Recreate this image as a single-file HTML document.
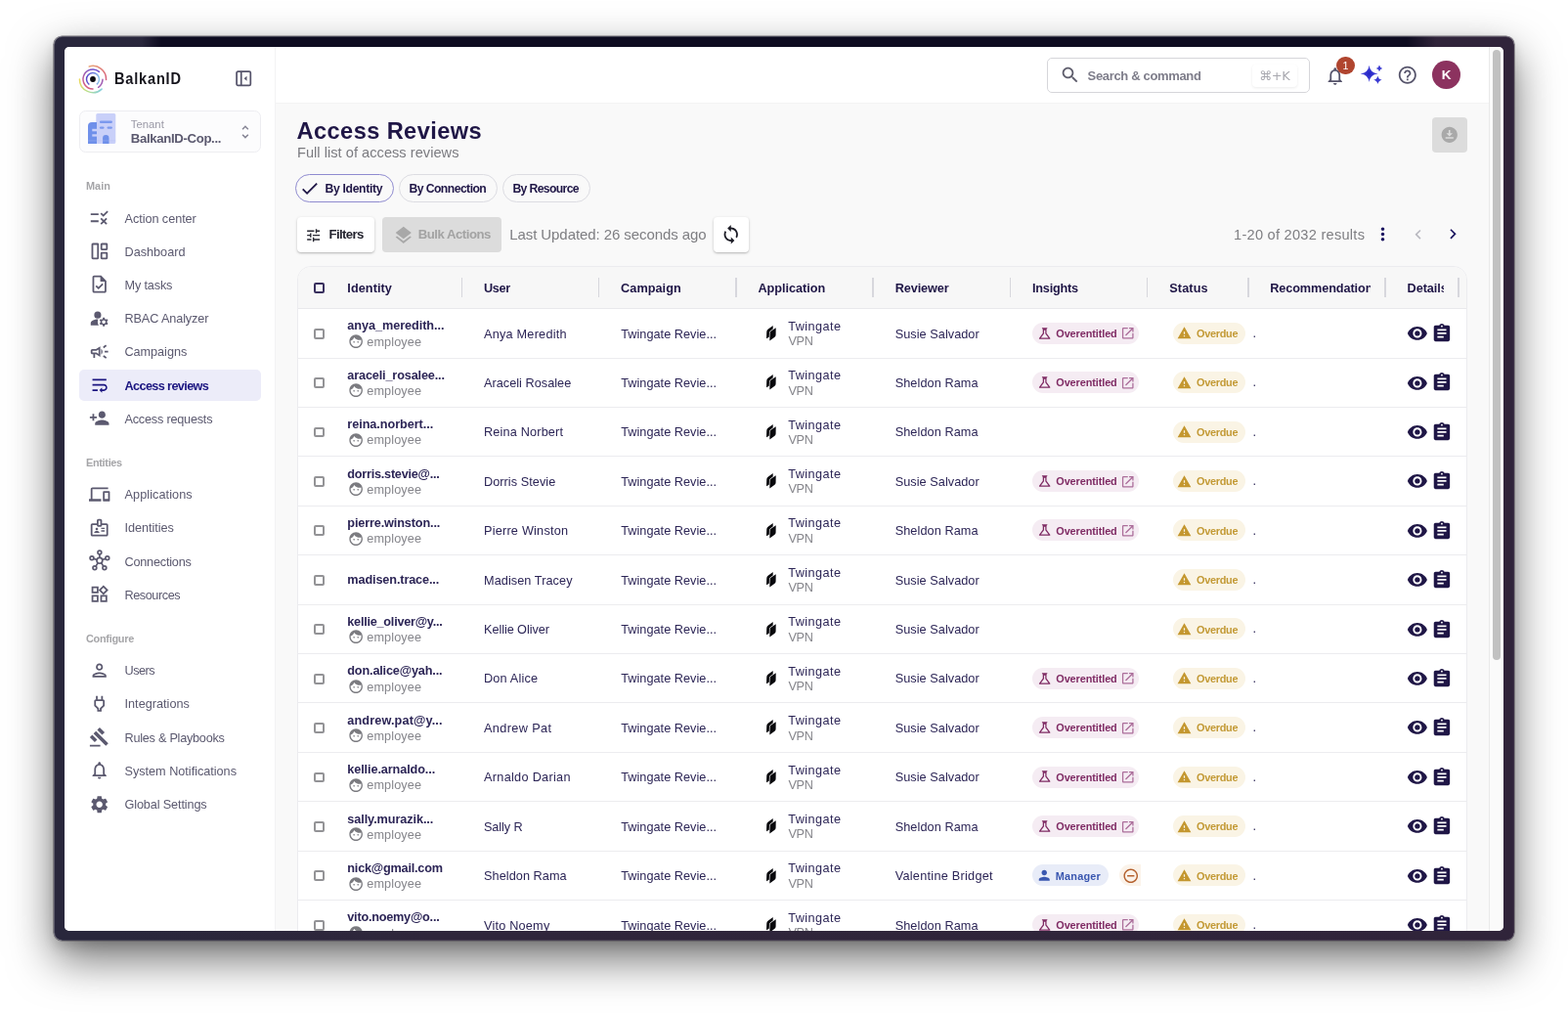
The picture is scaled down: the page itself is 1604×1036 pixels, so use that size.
<!DOCTYPE html>
<html lang="en"><head><meta charset="utf-8"><title>Access Reviews - BalkanID</title>
<style>
html,body{margin:0;padding:0;}
body{width:1604px;height:1036px;background:#fff;position:relative;overflow:hidden;font-family:"Liberation Sans",sans-serif;}
.frame{position:absolute;left:55.3px;top:37.2px;width:1493.4px;height:924.7px;border-radius:8.5px;
background:linear-gradient(90deg,#29273c 0%,#29273c 4%,#2f263b 26%,#30243a 100%);
box-shadow:0 0 0 .6px rgba(70,66,74,.75),0 19px 46px rgba(0,0,0,.56),0 6px 12px rgba(0,0,0,.13);}
.frame:before{content:"";position:absolute;left:0;top:0;right:0;height:11.5px;border-radius:8.5px 9.5px 0 0;
background:linear-gradient(90deg,rgba(14,12,32,0) 90px,#0e0c20 110px,#0e0c20 1384px,rgba(14,12,32,0) 1414px);}
.frame:after{content:"";position:absolute;left:0;top:0;right:0;bottom:0;border-radius:8.5px;box-shadow:inset 0 1px 0 rgba(255,255,255,.22),inset 0 -1px 0 rgba(255,255,255,.10),inset -1px 0 0 rgba(255,255,255,.06),inset 1px 0 0 rgba(255,255,255,.24);}
.screen{position:absolute;left:66px;top:48px;width:1472px;height:904px;border-radius:5px;overflow:hidden;background:#f9f9f9;}
.abs{position:absolute;left:-66px;top:-48px;width:1604px;height:1036px;}
.t{position:absolute;white-space:nowrap;line-height:1;display:block;}
.i{position:absolute;display:block;overflow:visible;}
.b{position:absolute;}
.sbt{position:absolute;left:1523px;top:48px;width:15px;height:904px;background:#fafafa;border-left:1px solid #e9e9e9;box-sizing:border-box;}
.sbh{position:absolute;left:1527.1px;top:51px;width:7.9px;height:623.5px;background:#c1c1c1;border-radius:4px;}
</style></head><body>
<div class="frame"></div>
<div class="screen"><div class="abs">
<aside class="sidebar">
<div class="b" style="left:66.00px;top:48.00px;width:215.00px;height:904.00px;background:#fff;border-right:1px solid #f3f3f4;"></div>
<svg class="i" style="left:78.50px;top:64.50px;width:32px;height:32px;" viewBox="0 0 32 32"><defs>
<linearGradient id="lg1" gradientUnits="userSpaceOnUse" x1="12" y1="2" x2="30" y2="16"><stop offset="0" stop-color="#eaa878"/><stop offset="1" stop-color="#d85f7c"/></linearGradient>
<linearGradient id="lg2" gradientUnits="userSpaceOnUse" x1="2" y1="16" x2="26" y2="28"><stop offset="0" stop-color="#ecd95a"/><stop offset=".5" stop-color="#b9df8e"/><stop offset="1" stop-color="#7fcde6"/></linearGradient>
<linearGradient id="lg3" gradientUnits="userSpaceOnUse" x1="22" y1="7" x2="12" y2="27"><stop offset="0" stop-color="#6a4fd0"/><stop offset=".55" stop-color="#b05fa6"/><stop offset="1" stop-color="#de5f7c"/></linearGradient>
<linearGradient id="lg4" gradientUnits="userSpaceOnUse" x1="9" y1="16" x2="23" y2="16"><stop offset="0" stop-color="#5a46c8"/><stop offset=".5" stop-color="#6a74dc"/><stop offset="1" stop-color="#8cc8ec"/></linearGradient>
</defs>
<g fill="none" stroke-linecap="round" stroke-width="1.5">
<path d="M12.25 2.93A13.6 13.6 0 0 1 29.59 16.47" stroke="url(#lg1)"/>
<path d="M25.10 26.11A13.6 13.6 0 0 1 2.40 16.00" stroke="url(#lg2)"/>
<path d="M16.00 26.00A10 10 0 1 1 22.43 8.34" stroke="url(#lg3)"/>
<path d="M25.99 16.35A10 10 0 0 1 21.59 24.29" stroke="#a35fb4"/>
<path d="M11.91 21.05A6.5 6.5 0 1 1 20.35 20.83" stroke="url(#lg4)"/>
</g>
<circle cx="16" cy="16" r="2.900" fill="#0c0c10"/>
</svg>
<span class="t " style="top:72.19px;font-size:16.2px;color:#16151d;font-weight:700;letter-spacing:0.890px;left:117.40px;transform:scaleX(0.9);transform-origin:0 0;">BalkanID</span>
<svg class="i" style="left:241.10px;top:71.80px;width:16.4px;height:16.4px;" viewBox="0 0 18 18"><rect x="1.2" y="1.2" width="15.6" height="15.6" rx="1.5" fill="none" stroke="#56546b" stroke-width="1.9"/><path d="M6.3 1.5v15" stroke="#56546b" stroke-width="1.9"/><path d="M12.6 6.2v5.6L9.5 9z" fill="#56546b"/></svg>
<div class="b" style="left:80.50px;top:113.00px;width:186.30px;height:42.50px;background:#fcfcfd;border:1px solid #ededf1;border-radius:6.5px;box-sizing:border-box;"></div>
<svg class="i" style="left:90.00px;top:116.00px;width:29px;height:31px;" viewBox="0 0 29 31">
<rect x="8.3" y="0" width="20" height="31" rx="1.6" fill="#c9d0f9"/>
<path d="M0 13a4 4 0 0 1 4-4h5v22H0z" fill="#6f90ea"/>
<rect x="11.9" y="7.600" width="13" height="2.400" rx="1.2" fill="#7c99ee"/>
<rect x="11.900" y="13.400" width="4.600" height="2.400" rx="1.2" fill="#7c99ee"/>
<rect x="19.600" y="13.400" width="5.300" height="2.400" rx="1.200" fill="#7c99ee"/>
<path d="M15.100 31v-5.800a3.200 3.200 0 0 1 6.400 0V31z" fill="#6f90ea"/>
<rect x="4.300" y="15.800" width="4.700" height="2.500" fill="#c9d0f9"/>
<rect x="4.300" y="21.300" width="4.700" height="2.300" fill="#c9d0f9"/>
<rect x="0" y="27.600" width="28.300" height=".6" fill="#aebaf3" opacity=".55"/>
</svg>
<span class="t " style="top:121.78px;font-size:11.3px;color:#9a99a6;letter-spacing:0.014px;left:133.80px;">Tenant</span>
<span class="t " style="top:135.35px;font-size:13.2px;color:#5b596f;font-weight:700;letter-spacing:-0.346px;left:133.80px;">BalkanID-Cop...</span>
<svg class="i" style="left:242.15px;top:125.95px;width:17.9px;height:17.9px;" viewBox="0 0 24 24"><path fill="#858494" d="M12 5.830L15.170 9l1.410-1.410L12 3 7.410 7.590 8.830 9 12 5.830zm0 12.340L8.830 15l-1.410 1.410L12 21l4.590-4.590L15.170 15 12 18.170z"/></svg>
<span class="t " style="top:185.08px;font-size:10.9px;color:#a5a5a8;font-weight:700;letter-spacing:0.024px;left:88.00px;">Main</span>
<span class="t " style="top:467.58px;font-size:10.9px;color:#a5a5a8;font-weight:700;letter-spacing:-0.310px;left:88.00px;">Entities</span>
<span class="t " style="top:647.58px;font-size:10.9px;color:#a5a5a8;font-weight:700;letter-spacing:-0.271px;left:88.00px;">Configure</span>
<svg class="i" style="left:91.10px;top:212.00px;width:21.4px;height:21.4px;" viewBox="0 0 24 24"><path fill="#5b596f" d="M16.54 11L13 7.46l1.41-1.41 2.12 2.12 4.24-4.24 1.41 1.41L16.54 11zM11 7H2v2h9V7zm10 6.41L19.59 12 17 14.59 14.41 12 13 13.41 15.59 16 13 18.59 14.41 20 17 17.41 19.59 20 21 18.59 18.41 16 21 13.41zM11 15H2v2h9v-2z"/></svg>
<span class="t " style="top:217.50px;font-size:12.7px;color:#5b596f;letter-spacing:-0.060px;left:127.50px;">Action center</span>
<svg class="i" style="left:91.90px;top:247.10px;width:19.8px;height:19.8px;" viewBox="0 0 24 24"><g fill="none" stroke="#5b596f" stroke-width="2.2" stroke-linejoin="round"><rect x="3" y="3" width="7" height="18" rx=".6"/><rect x="14.2" y="3" width="6.8" height="6.8" rx=".6"/><rect x="14.2" y="14.2" width="6.8" height="6.8" rx=".6"/></g></svg>
<span class="t " style="top:251.80px;font-size:12.7px;color:#5b596f;letter-spacing:-0.016px;left:127.50px;">Dashboard</span>
<svg class="i" style="left:91.10px;top:280.40px;width:21.4px;height:21.4px;" viewBox="0 0 24 24"><path fill="#5b596f" d="M14 2H6c-1.1 0-1.99.9-1.99 2L4 20c0 1.1.89 2 1.99 2H18c1.1 0 2-.9 2-2V8l-6-6zm4 18H6V4h7v5h5v11zm-9.18-6.95L7.4 14.46 10.94 18l5.66-5.66-1.41-1.41-4.24 4.24-2.13-2.12z"/></svg>
<span class="t " style="top:285.90px;font-size:12.7px;color:#5b596f;letter-spacing:-0.157px;left:127.50px;">My tasks</span>
<svg class="i" style="left:91.10px;top:314.60px;width:21.4px;height:21.4px;" viewBox="0 0 24 24"><path fill="#5b596f" d="M10 4a4 4 0 1 0 0 8a4 4 0 1 0 0-8zM10.67 13.02c-.22-.01-.44-.02-.67-.02-2.42 0-4.68.67-6.61 1.82-.88.52-1.39 1.5-1.39 2.53V20h9.26c-.79-1.13-1.26-2.51-1.26-4 0-1.07.25-2.07.67-2.98zM20.75 16c0-.22-.03-.42-.06-.63l1.14-1.01-1-1.73-1.45.49c-.32-.27-.68-.48-1.08-.63L18 11h-2l-.3 1.49c-.4.15-.76.36-1.08.63l-1.45-.49-1 1.73 1.14 1.01c-.03.21-.06.41-.06.63s.03.42.06.63l-1.14 1.01 1 1.73 1.45-.49c.32.27.68.48 1.08.63L16 21h2l.3-1.49c.4-.15.76-.36 1.08-.63l1.45.49 1-1.73-1.14-1.01c.03-.21.06-.41.06-.63zM17 18c-1.1 0-2-.9-2-2s.9-2 2-2 2 .9 2 2-.9 2-2 2z"/></svg>
<span class="t " style="top:320.10px;font-size:12.7px;color:#5b596f;letter-spacing:-0.127px;left:127.50px;">RBAC Analyzer</span>
<svg class="i" style="left:91.10px;top:348.80px;width:21.4px;height:21.4px;" viewBox="0 0 24 24"><path fill="#5b596f" d="M18 11v2h4v-2h-4zm-2 6.61c.96.71 2.21 1.65 3.2 2.39.4-.53.8-1.07 1.2-1.6-.99-.74-2.24-1.68-3.2-2.4-.4.54-.8 1.08-1.2 1.61zM20.4 5.6c-.4-.53-.8-1.07-1.2-1.6-.99.74-2.24 1.68-3.2 2.4.4.53.8 1.07 1.2 1.6.96-.72 2.21-1.65 3.2-2.4zM4 9c-1.1 0-2 .9-2 2v2c0 1.1.9 2 2 2h1v4h2v-4h1l5 3V6L8 9H4zm5.03 1.71L11 9.53v4.94l-1.97-1.18-.48-.29H4v-2h4.55l.48-.29zM15.5 12c0-1.33-.58-2.53-1.5-3.35v6.69c.92-.81 1.5-2.01 1.5-3.34z"/></svg>
<span class="t " style="top:354.30px;font-size:12.7px;color:#5b596f;letter-spacing:-0.055px;left:127.50px;">Campaigns</span>
<div class="b" style="left:81.00px;top:377.50px;width:186.00px;height:32.50px;background:#ececf9;border-radius:5px;"></div>
<svg class="i" style="left:91.10px;top:383.10px;width:21.4px;height:21.4px;" viewBox="0 0 24 24"><path fill="#1b1580" d="M4 19h6v-2H4v2zM20 5H4v2h16V5zm-3 6H4v2h13.25c1.1 0 2 .9 2 2s-.9 2-2 2H15v-2l-3 3 3 3v-2h2c2.21 0 4-1.79 4-4s-1.79-4-4-4z"/></svg>
<span class="t " style="top:388.60px;font-size:12.7px;color:#1b1580;font-weight:700;letter-spacing:-0.624px;left:127.50px;">Access reviews</span>
<svg class="i" style="left:91.10px;top:417.30px;width:21.4px;height:21.4px;" viewBox="0 0 24 24"><path fill="#5b596f" d="M15 12c2.21 0 4-1.79 4-4s-1.79-4-4-4-4 1.79-4 4 1.79 4 4 4zm-9-2V7H4v3H1v2h3v3h2v-3h3v-2H6zm9 4c-2.67 0-8 1.34-8 4v2h16v-2c0-2.66-5.33-4-8-4z"/></svg>
<span class="t " style="top:422.80px;font-size:12.7px;color:#5b596f;letter-spacing:-0.219px;left:127.50px;">Access requests</span>
<svg class="i" style="left:91.10px;top:494.60px;width:21.4px;height:21.4px;" viewBox="0 0 24 24"><path fill="#5b596f" d="M4 6h18V4H4c-1.1 0-2 .9-2 2v11H0v3h14v-3H4V6zm19 2h-6c-.55 0-1 .45-1 1v10c0 .55.45 1 1 1h6c.55 0 1-.45 1-1V9c0-.55-.45-1-1-1zm-1 9h-4v-7h4v7z"/></svg>
<span class="t " style="top:500.10px;font-size:12.7px;color:#5b596f;letter-spacing:0.065px;left:127.50px;">Applications</span>
<svg class="i" style="left:91.10px;top:528.80px;width:21.4px;height:21.4px;" viewBox="0 0 24 24"><path fill="#5b596f" d="M14 12h4v1.5h-4zm0 3h4v1.5h-4zM20 7h-5V4c0-1.1-.9-2-2-2h-2c-1.1 0-2 .9-2 2v3H4c-1.1 0-2 .9-2 2v11c0 1.1.9 2 2 2h16c1.1 0 2-.9 2-2V9c0-1.1-.9-2-2-2zm-9-3h2v5h-2V4zm9 16H4V9h5c0 1.1.9 2 2 2h2c1.1 0 2-.9 2-2h5v11zM9 15c.83 0 1.500-.67 1.500-1.500S9.830 12 9 12s-1.500.67-1.500 1.500S8.170 15 9 15zm2.080 1.180C10.440 15.900 9.740 15.750 9 15.750s-1.440.15-2.080.43c-.56.24-.92.78-.92 1.390V18h6v-.43c0-.61-.36-1.150-.92-1.390z"/></svg>
<span class="t " style="top:534.30px;font-size:12.7px;color:#5b596f;letter-spacing:-0.059px;left:127.50px;">Identities</span>
<svg class="i" style="left:90.90px;top:562.10px;width:21.8px;height:21.8px;" viewBox="0 0 24 24"><g fill="none" stroke="#5b596f" stroke-width="1.85"><circle cx="12" cy="12.500" r="3.2"/><circle cx="12" cy="3.300" r="2.1"/><circle cx="3.300" cy="9.600" r="2.1"/><circle cx="20.700" cy="9.600" r="2.1"/><circle cx="6.500" cy="20.600" r="2.1"/><circle cx="17.500" cy="20.600" r="2.1"/><path d="M12 5.400v4M5.300 10.300l3.800 1.300M18.700 10.300l-3.800 1.300M7.700 18.900l2.400-3.800M16.300 18.900l-2.400-3.800"/></g></svg>
<span class="t " style="top:568.50px;font-size:12.7px;color:#5b596f;letter-spacing:-0.220px;left:127.50px;">Connections</span>
<svg class="i" style="left:91.10px;top:597.30px;width:21.4px;height:21.4px;" viewBox="0 0 24 24"><path fill="#5b596f" d="M16.66 4.52l2.83 2.83-2.83 2.83-2.83-2.83 2.83-2.83M9 5v4H5V5h4m10 10v4h-4v-4h4M9 15v4H5v-4h4m7.66-13.31L11 7.34 16.66 13l5.66-5.66-5.660-5.650zM11 3H3v8h8V3zm10 10h-8v8h8v-8zm-10 0H3v8h8v-8z"/></svg>
<span class="t " style="top:602.80px;font-size:12.7px;color:#5b596f;letter-spacing:-0.438px;left:127.50px;">Resources</span>
<svg class="i" style="left:91.10px;top:674.60px;width:21.4px;height:21.4px;" viewBox="0 0 24 24"><path fill="#5b596f" d="M12 6c1.1 0 2 .9 2 2s-.9 2-2 2-2-.9-2-2 .9-2 2-2m0 10c2.7 0 5.8 1.29 6 2H6c.23-.72 3.31-2 6-2m0-12C9.79 4 8 5.79 8 8s1.79 4 4 4 4-1.79 4-4-1.79-4-4-4zm0 10c-2.67 0-8 1.34-8 4v2h16v-2c0-2.66-5.33-4-8-4z"/></svg>
<span class="t " style="top:680.10px;font-size:12.7px;color:#5b596f;letter-spacing:-0.491px;left:127.50px;">Users</span>
<svg class="i" style="left:91.10px;top:708.80px;width:21.4px;height:21.4px;" viewBox="0 0 24 24"><path fill="#5b596f" d="M16 9v4.66l-3.5 3.51V19h-1v-1.83L8 13.65V9h8m0-6h-2v4h-4V3H8v4h-.01C6.9 6.99 6 7.89 6 8.980v5.520L9.5 18v3h5v-3l3.5-3.510V9c0-1.100-.9-2-2-2V3z"/></svg>
<span class="t " style="top:714.30px;font-size:12.7px;color:#5b596f;letter-spacing:0.012px;left:127.50px;">Integrations</span>
<svg class="i" style="left:91.10px;top:743.00px;width:21.4px;height:21.4px;" viewBox="0 0 24 24"><path fill="#5b596f" d="M1 21h12v2H1v-2zM5.240 8.070l2.830-2.830 14.140 14.140-2.830 2.830L5.240 8.070zM12.320 1l5.660 5.660-2.830 2.830-5.660-5.660L12.320 1zM3.830 9.480l5.660 5.660-2.830 2.830L1 12.310l2.830-2.830z"/></svg>
<span class="t " style="top:748.50px;font-size:12.7px;color:#5b596f;letter-spacing:-0.256px;left:127.50px;">Rules &amp; Playbooks</span>
<svg class="i" style="left:91.10px;top:777.30px;width:21.4px;height:21.4px;" viewBox="0 0 24 24"><path fill="#5b596f" d="M12 22c1.1 0 2-.9 2-2h-4c0 1.1.9 2 2 2zm6-6v-5c0-3.070-1.630-5.640-4.500-6.320V4c0-.83-.67-1.500-1.500-1.500s-1.500.67-1.500 1.500v.68C7.640 5.360 6 7.920 6 11v5l-2 2v1h16v-1l-2-2zm-2 1H8v-6c0-2.480 1.510-4.500 4-4.500s4 2.020 4 4.500v6z"/></svg>
<span class="t " style="top:782.80px;font-size:12.7px;color:#5b596f;letter-spacing:-0.023px;left:127.50px;">System Notifications</span>
<svg class="i" style="left:91.10px;top:811.50px;width:21.4px;height:21.4px;" viewBox="0 0 24 24"><path fill="#5b596f" d="M19.14 12.94c.04-.3.06-.61.06-.94 0-.32-.02-.64-.07-.94l2.030-1.580c.18-.14.23-.41.12-.61l-1.920-3.320c-.12-.22-.37-.29-.59-.22l-2.390.96c-.5-.38-1.030-.7-1.620-.94l-.36-2.540c-.04-.24-.24-.41-.48-.41h-3.840c-.24 0-.43.17-.47.41l-.36 2.540c-.59.24-1.130.57-1.620.94l-2.390-.96c-.22-.08-.47 0-.59.22L2.740 8.870c-.12.21-.08.47.12.61l2.030 1.580c-.05.3-.09.63-.09.94s.02.64.07.94l-2.030 1.580c-.18.14-.23.41-.12.61l1.920 3.320c.12.22.37.29.59.22l2.390-.96c.5.38 1.030.7 1.620.94l.36 2.540c.05.24.24.41.48.41h3.840c.24 0 .44-.17.47-.41l.36-2.540c.59-.24 1.130-.56 1.620-.94l2.390.96c.22.08.47 0 .59-.22l1.920-3.320c.12-.22.07-.47-.12-.61l-2.010-1.580zM12 15.600c-1.980 0-3.600-1.620-3.600-3.600s1.620-3.600 3.600-3.600 3.600 1.620 3.600 3.600-1.620 3.600-3.600 3.600z"/></svg>
<span class="t " style="top:817.00px;font-size:12.7px;color:#5b596f;letter-spacing:-0.131px;left:127.50px;">Global Settings</span>
</aside>
<header class="topbar">
<div class="b" style="left:282.00px;top:48.00px;width:1241.00px;height:57.00px;background:#fff;border-bottom:1px solid #f3f3f4;"></div>
<div class="b" style="left:1071.00px;top:59.20px;width:269.00px;height:35.50px;background:#fff;border:1px solid #d6d6da;border-radius:5px;box-sizing:border-box;"></div>
<svg class="i" style="left:1084.05px;top:65.75px;width:21.5px;height:21.5px;" viewBox="0 0 24 24"><path fill="#5e5d6c" d="M15.5 14h-.79l-.28-.27C15.410 12.590 16 11.110 16 9.500 16 5.910 13.090 3 9.500 3S3 5.910 3 9.500 5.910 16 9.500 16c1.610 0 3.090-.59 4.230-1.570l.27.28v.79l5 4.990L20.490 19l-4.990-5zm-6 0C7.010 14 5 11.990 5 9.500S7.010 5 9.500 5 14 7.010 14 9.500 11.990 14 9.500 14z"/></svg>
<span class="t " style="top:71.05px;font-size:13px;color:#7e7d8a;font-weight:700;letter-spacing:-0.338px;left:1112.60px;">Search &amp; command</span>
<div class="b" style="left:1280.80px;top:66.00px;width:46.50px;height:23.00px;background:#fff;border-radius:4px;box-shadow:0 1px 3px rgba(0,0,0,.08);"></div>
<span class="t " style="top:70.65px;font-size:13px;color:#a9a9b0;letter-spacing:-0.300px;left:1288.00px;font-family:'DejaVu Sans','Liberation Sans',sans-serif;">⌘+K</span>
<svg class="i" style="left:1354.95px;top:66.95px;width:21.5px;height:21.5px;" viewBox="0 0 24 24"><path fill="#56546b" d="M12 22c1.1 0 2-.9 2-2h-4c0 1.1.9 2 2 2zm6-6v-5c0-3.070-1.630-5.640-4.500-6.320V4c0-.83-.67-1.500-1.500-1.500s-1.500.67-1.500 1.500v.68C7.640 5.360 6 7.920 6 11v5l-2 2v1h16v-1l-2-2zm-2 1H8v-6c0-2.480 1.510-4.500 4-4.500s4 2.020 4 4.500v6z"/></svg>
<div class="b" style="left:1367.40px;top:57.80px;width:18.40px;height:18.40px;background:#b0452f;border-radius:50%;"></div>
<span class="t " style="top:61.92px;font-size:10.8px;color:#fff;left:1376.50px;transform:translateX(-50%);">1</span>
<svg class="i" style="left:1388.00px;top:60.00px;width:30px;height:30px;" viewBox="0 0 30 30"><defs><radialGradient id="spg" gradientUnits="userSpaceOnUse" cx="12.6" cy="15.400" r="10"><stop offset="0" stop-color="#2424c4"/><stop offset="1" stop-color="#5151e2"/></radialGradient></defs><path fill="url(#spg)" d="M12.60 6.70Q13.50 14.53 21.60 15.40Q13.50 16.27 12.60 24.10Q11.70 16.27 3.60 15.40Q11.70 14.53 12.60 6.70Z"/><path fill="#3a3ad2" d="M23.00 6.60Q23.53 9.37 26.30 9.90Q23.53 10.43 23.00 13.20Q22.47 10.43 19.70 9.90Q22.47 9.37 23.00 6.60ZM21.40 17.50Q22.09 21.11 25.70 21.80Q22.09 22.49 21.40 26.10Q20.71 22.49 17.10 21.80Q20.71 21.11 21.40 17.50Z"/></svg>
<svg class="i" style="left:1429.40px;top:66.10px;width:21.6px;height:21.6px;" viewBox="0 0 24 24"><path fill="#56546b" d="M11 18h2v-2h-2v2zm1-16C6.480 2 2 6.480 2 12s4.480 10 10 10 10-4.480 10-10S17.520 2 12 2zm0 18c-4.410 0-8-3.590-8-8s3.590-8 8-8 8 3.590 8 8-3.590 8-8 8zm0-14c-2.210 0-4 1.790-4 4h2c0-1.100.9-2 2-2s2 .9 2 2c0 2-3 1.750-3 5h2c0-2.250 3-2.500 3-5 0-2.210-1.790-4-4-4z"/></svg>
<div class="b" style="left:1465.30px;top:62.10px;width:28.80px;height:28.80px;background:#8c325f;border-radius:50%;"></div>
<span class="t " style="top:70.01px;font-size:13.5px;color:#fff;font-weight:700;left:1479.70px;transform:translateX(-50%);">K</span>
</header>
<main class="content">
<section class="page-head">
<span class="t " style="top:123.27px;font-size:23.6px;color:#1f1646;font-weight:700;letter-spacing:0.409px;left:303.60px;">Access Reviews</span>
<span class="t " style="top:149.07px;font-size:14.6px;color:#7b7b80;letter-spacing:0.031px;left:304.00px;">Full list of access reviews</span>
<div class="b" style="left:1465.20px;top:120.00px;width:36.20px;height:35.50px;background:#dcdcdc;border-radius:4px;"></div>
<svg class="i" style="left:1473.45px;top:128.05px;width:19.5px;height:19.5px;" viewBox="0 0 24 24"><path fill="#a9a9a9" d="M12 2C6.490 2 2 6.490 2 12s4.490 10 10 10 10-4.490 10-10S17.510 2 12 2zm-1 8V6h2v4h3l-4 4-4-4h3zm6 7H7v-2h10v2z"/></svg>
<div class="b" style="left:302.00px;top:177.50px;width:101.00px;height:29.50px;border:1px solid #8f8bd0;border-radius:15px;box-sizing:border-box;"></div>
<svg class="i" style="left:305.75px;top:181.65px;width:21.5px;height:21.5px;" viewBox="0 0 24 24"><path fill="#1f1646" d="M9 16.170L4.830 12l-1.420 1.410L9 19 21 7l-1.410-1.410z"/></svg>
<span class="t " style="top:187.04px;font-size:12.2px;color:#1f1646;font-weight:700;letter-spacing:-0.346px;left:332.60px;">By Identity</span>
<div class="b" style="left:408.00px;top:177.50px;width:100.50px;height:29.50px;border:1px solid #dcdce2;border-radius:15px;box-sizing:border-box;"></div>
<span class="t " style="top:187.04px;font-size:12.2px;color:#1f1646;font-weight:700;letter-spacing:-0.548px;left:418.40px;">By Connection</span>
<div class="b" style="left:514.00px;top:177.50px;width:89.50px;height:29.50px;border:1px solid #dcdce2;border-radius:15px;box-sizing:border-box;"></div>
<span class="t " style="top:187.04px;font-size:12.2px;color:#1f1646;font-weight:700;letter-spacing:-0.629px;left:524.40px;">By Resource</span>
<div class="b" style="left:304.00px;top:222.00px;width:79.20px;height:35.50px;background:#fff;border-radius:4px;box-shadow:0 1px 3px rgba(0,0,0,.22),0 1px 1px rgba(0,0,0,.08);"></div>
<svg class="i" style="left:312.05px;top:231.55px;width:17.3px;height:17.3px;" viewBox="0 0 24 24"><path fill="#2a2a35" d="M3 17v2h6v-2H3zM3 5v2h10V5H3zm10 16v-2h8v-2h-8v-2h-2v6h2zM7 9v2H3v2h4v2h2V9H7zm14 4v-2H11v2h10zm-6-4h2V7h4V5h-4V3h-2v6z"/></svg>
<span class="t " style="top:232.95px;font-size:13.2px;color:#23232e;font-weight:700;letter-spacing:-0.635px;left:336.50px;">Filters</span>
<div class="b" style="left:390.70px;top:222.00px;width:122.50px;height:35.50px;background:#dcdcdc;border-radius:4px;"></div>
<svg class="i" style="left:401.55px;top:229.65px;width:21.5px;height:21.5px;" viewBox="0 0 24 24"><path fill="#a8a8a8" d="M11.990 18.540l-7.370-5.730L3 14.070l9 7 9-7-1.630-1.270-7.380 5.740zM12 16l7.360-5.730L21 9l-9-7-9 7 1.630 1.270L12 16z"/></svg>
<span class="t " style="top:232.95px;font-size:13.2px;color:#a3a3a3;font-weight:700;letter-spacing:-0.508px;left:427.80px;">Bulk Actions</span>
<span class="t " style="top:231.87px;font-size:15px;color:#7e7e82;letter-spacing:-0.073px;left:521.20px;">Last Updated: 26 seconds ago</span>
<div class="b" style="left:730.00px;top:222.00px;width:36.00px;height:35.50px;background:#fff;border-radius:4px;box-shadow:0 1px 3px rgba(0,0,0,.22),0 1px 1px rgba(0,0,0,.08);"></div>
<svg class="i" style="left:737.25px;top:228.95px;width:21.5px;height:21.5px;" viewBox="0 0 24 24"><path fill="#1b1b25" d="M12 4V1L8 5l4 4V6c3.310 0 6 2.690 6 6 0 1.010-.25 1.970-.7 2.800l1.460 1.460C19.540 15.030 20 13.570 20 12c0-4.420-3.580-8-8-8zm0 14c-3.310 0-6-2.690-6-6 0-1.010.25-1.970.7-2.800L5.240 7.740C4.460 8.970 4 10.430 4 12c0 4.420 3.580 8 8 8v3l4-4-4-4v3z"/></svg>
<span class="t " style="top:232.67px;font-size:14.6px;color:#7e7e82;letter-spacing:0.261px;left:1262.00px;">1-20 of 2032 results</span>
<svg class="i" style="left:1403.80px;top:229.20px;width:21px;height:21px;" viewBox="0 0 24 24"><path fill="#1c1660" d="M12 8c1.100 0 2-.9 2-2s-.9-2-2-2-2 .9-2 2 .9 2 2 2zm0 2c-1.100 0-2 .9-2 2s.9 2 2 2 2-.9 2-2-.9-2-2-2zm0 6c-1.100 0-2 .9-2 2s.9 2 2 2 2-.9 2-2-.9-2-2-2z"/></svg>
<svg class="i" style="left:1440.55px;top:229.95px;width:19.5px;height:19.5px;" viewBox="0 0 24 24"><path fill="#b9b9c0" d="M15.410 7.410L14 6l-6 6 6 6 1.410-1.410L10.830 12z"/></svg>
<svg class="i" style="left:1475.75px;top:229.45px;width:20.5px;height:20.5px;" viewBox="0 0 24 24"><path fill="#1c1660" d="M10 6L8.590 7.410 13.170 12l-4.580 4.590L10 18l6-6z"/></svg>
</section>
<section class="table">
<div class="thead">
<div class="b" style="left:304.00px;top:272.00px;width:1197.00px;height:700.00px;background:#fff;border:1px solid #ececef;border-radius:14px;box-sizing:border-box;"></div>
<div class="b" style="left:305.00px;top:273.00px;width:1195.00px;height:42.00px;background:#f7f7f7;border-bottom:1px solid #e9e9ec;border-radius:13px 13px 0 0;"></div>
<div class="b" style="left:321.20px;top:288.50px;width:11.20px;height:11.20px;border:2px solid #39305e;border-radius:2px;box-sizing:border-box;"></div>
<span class="t " style="top:289.10px;font-size:12.7px;color:#1f1646;font-weight:700;letter-spacing:0.063px;left:355.30px;">Identity</span>
<span class="t " style="top:289.10px;font-size:12.7px;color:#1f1646;font-weight:700;letter-spacing:-0.313px;left:494.90px;">User</span>
<span class="t " style="top:289.10px;font-size:12.7px;color:#1f1646;font-weight:700;letter-spacing:0.044px;left:635.10px;">Campaign</span>
<span class="t " style="top:289.10px;font-size:12.7px;color:#1f1646;font-weight:700;letter-spacing:-0.034px;left:775.40px;">Application</span>
<span class="t " style="top:289.10px;font-size:12.7px;color:#1f1646;font-weight:700;letter-spacing:-0.110px;left:915.70px;">Reviewer</span>
<span class="t " style="top:289.10px;font-size:12.7px;color:#1f1646;font-weight:700;letter-spacing:-0.227px;left:1056.00px;">Insights</span>
<span class="t " style="top:289.10px;font-size:12.7px;color:#1f1646;font-weight:700;letter-spacing:0.097px;left:1196.30px;">Status</span>
<span class="t " style="top:289.10px;font-size:12.7px;color:#1f1646;font-weight:700;letter-spacing:-0.095px;left:1299.20px;width:102.9px;overflow:hidden;">Recommendation</span>
<span class="t " style="top:289.10px;font-size:12.7px;color:#1f1646;font-weight:700;letter-spacing:-0.077px;left:1439.60px;width:37.3px;overflow:hidden;">Details</span>
<div class="b" style="left:471.55px;top:284.30px;width:1.50px;height:19.70px;background:#d7d7dd;"></div>
<div class="b" style="left:611.75px;top:284.30px;width:1.50px;height:19.70px;background:#d7d7dd;"></div>
<div class="b" style="left:752.05px;top:284.30px;width:1.50px;height:19.70px;background:#d7d7dd;"></div>
<div class="b" style="left:892.25px;top:284.30px;width:1.50px;height:19.70px;background:#d7d7dd;"></div>
<div class="b" style="left:1032.55px;top:284.30px;width:1.50px;height:19.70px;background:#d7d7dd;"></div>
<div class="b" style="left:1172.75px;top:284.30px;width:1.50px;height:19.70px;background:#d7d7dd;"></div>
<div class="b" style="left:1276.15px;top:284.30px;width:1.50px;height:19.70px;background:#d7d7dd;"></div>
<div class="b" style="left:1416.25px;top:284.30px;width:1.50px;height:19.70px;background:#d7d7dd;"></div>
<div class="b" style="left:1491.45px;top:284.30px;width:1.50px;height:19.70px;background:#d7d7dd;"></div>
</div>
<div class="tr">
<div class="b" style="left:321.15px;top:335.75px;width:10.90px;height:10.90px;border:2px solid #939396;border-radius:2px;box-sizing:border-box;background:#fff;"></div>
<span class="t " style="top:327.30px;font-size:12.7px;color:#2c2556;font-weight:700;letter-spacing:-0.062px;left:355.30px;">anya_meredith...</span>
<svg class="i" style="left:355.55px;top:340.95px;width:16.3px;height:16.3px;" viewBox="0 0 24 24"><path fill="#7b7b80" d="M9 11.750c-.69 0-1.250.56-1.250 1.250s.56 1.250 1.250 1.250 1.250-.56 1.250-1.250-.56-1.250-1.250-1.250zm6 0c-.69 0-1.250.56-1.250 1.250s.56 1.250 1.250 1.250 1.250-.56 1.250-1.250-.56-1.250-1.250-1.250zM12 2C6.480 2 2 6.480 2 12s4.480 10 10 10 10-4.480 10-10S17.520 2 12 2zm0 18c-4.410 0-8-3.590-8-8 0-.29.02-.58.05-.86 2.360-1.050 4.230-2.980 5.210-5.370C11.070 8.330 14.050 10 17.420 10c.78 0 1.530-.09 2.250-.26.21.71.33 1.470.33 2.260 0 4.410-3.590 8-8 8z"/></svg>
<span class="t " style="top:343.60px;font-size:12.7px;color:#85858b;letter-spacing:0.090px;left:375.30px;">employee</span>
<span class="t " style="top:335.50px;font-size:12.7px;color:#2c2556;letter-spacing:0.226px;left:495.00px;">Anya Meredith</span>
<span class="t " style="top:335.50px;font-size:12.7px;color:#2c2556;letter-spacing:0.037px;left:635.20px;">Twingate Revie...</span>
<svg class="i" style="left:776.00px;top:328.00px;width:30px;height:26px;" viewBox="0 0 30 26"><path d="M14.7 5 9.3 9Q8.4 9.800 8.300 11L8 18.300 13 15.500 14.700 8.500z" fill="#08080c"/><path d="M17.700 7.300 12.500 10.800Q11.700 11.400 11.600 12.500L11.300 20.600 16.500 16.700Q17.600 15.800 17.600 14.500z" fill="#08080c" stroke="#fff" stroke-width="1.3" paint-order="stroke"/></svg>
<span class="t " style="top:327.80px;font-size:12.7px;color:#2c2556;letter-spacing:0.410px;left:806.30px;">Twingate</span>
<span class="t " style="top:343.20px;font-size:12.7px;color:#85858b;letter-spacing:-0.257px;left:806.40px;">VPN</span>
<span class="t " style="top:335.50px;font-size:12.7px;color:#2c2556;letter-spacing:0.052px;left:915.70px;">Susie Salvador</span>
<div class="b" style="left:1056.00px;top:329.80px;width:109.00px;height:22.00px;background:#f5ecf3;border-radius:11.5px;"></div>
<svg class="i" style="left:1060.65px;top:333.65px;width:15.3px;height:15.3px;" viewBox="0 0 24 24"><path fill="#7f2b64" d="M13 11.330L18 18H6l5-6.670V6h2m2.960-4H8.040c-.42 0-.65.48-.39.81L9 4.500v6.170L3.200 18.400c-.49.66-.02 1.600.8 1.600h16c.82 0 1.290-.94.8-1.600L15 10.670V4.500l1.350-1.690c.26-.33.03-.81-.39-.81z"/></svg>
<span class="t " style="top:335.98px;font-size:10.9px;color:#7f2b64;font-weight:700;letter-spacing:-0.100px;left:1080.30px;">Overentitled</span>
<svg class="i" style="left:1145.85px;top:333.45px;width:15.5px;height:15.5px;" viewBox="0 0 24 24"><path fill="#ab6d9a" d="M19 19H5V5h7V3H5c-1.110 0-2 .9-2 2v14c0 1.100.89 2 2 2h14c1.100 0 2-.9 2-2v-7h-2v7zM14 3v2h3.590l-9.830 9.830 1.410 1.410L19 6.410V10h2V3h-7z"/></svg>
<div class="b" style="left:1200.00px;top:329.80px;width:74.20px;height:22.00px;background:#faf4e5;border-radius:11.5px;"></div>
<svg class="i" style="left:1204.40px;top:333.30px;width:15px;height:15px;" viewBox="0 0 24 24"><path fill="#c4972f" d="M1 21h22L12 2 1 21zm12-3h-2v-2h2v2zm0-4h-2v-4h2v4z"/></svg>
<span class="t " style="top:335.98px;font-size:10.9px;color:#c39a36;font-weight:700;letter-spacing:-0.287px;left:1224.00px;">Overdue</span>
<span class="t " style="top:334.90px;font-size:12.7px;color:#2c2556;left:1281.50px;">.</span>
<svg class="i" style="left:1439.30px;top:330.10px;width:21.8px;height:21.8px;" viewBox="0 0 24 24"><path fill="#1f1646" d="M12 4.500C7 4.500 2.730 7.610 1 12c1.730 4.390 6 7.500 11 7.500s9.270-3.110 11-7.500c-1.730-4.390-6-7.500-11-7.500zM12 17c-2.760 0-5-2.240-5-5s2.240-5 5-5 5 2.240 5 5-2.240 5-5 5zm0-8c-1.660 0-3 1.340-3 3s1.340 3 3 3 3-1.340 3-3-1.340-3-3-3z"/></svg>
<svg class="i" style="left:1464.35px;top:330.05px;width:21.9px;height:21.9px;" viewBox="0 0 24 24"><path fill="#1f1646" d="M19 3h-4.180C14.400 1.840 13.300 1 12 1c-1.300 0-2.400.84-2.820 2H5c-1.100 0-2 .9-2 2v14c0 1.100.9 2 2 2h14c1.100 0 2-.9 2-2V5c0-1.100-.9-2-2-2zm-7 0c.55 0 1 .45 1 1s-.45 1-1 1-1-.45-1-1 .45-1 1-1zm2 14H7v-2h7v2zm3-4H7v-2h10v2zm0-4H7V7h10v2z"/></svg>
</div>
<div class="tr">
<div class="b" style="left:305.00px;top:365.52px;width:1195.00px;height:1.00px;background:#ececef;"></div>
<div class="b" style="left:321.15px;top:386.17px;width:10.90px;height:10.90px;border:2px solid #939396;border-radius:2px;box-sizing:border-box;background:#fff;"></div>
<span class="t " style="top:377.72px;font-size:12.7px;color:#2c2556;font-weight:700;letter-spacing:-0.152px;left:355.30px;">araceli_rosalee...</span>
<svg class="i" style="left:355.55px;top:391.37px;width:16.3px;height:16.3px;" viewBox="0 0 24 24"><path fill="#7b7b80" d="M9 11.750c-.69 0-1.250.56-1.250 1.250s.56 1.250 1.250 1.250 1.250-.56 1.250-1.250-.56-1.250-1.250-1.250zm6 0c-.69 0-1.250.56-1.250 1.250s.56 1.250 1.250 1.250 1.250-.56 1.250-1.250-.56-1.250-1.250-1.250zM12 2C6.480 2 2 6.480 2 12s4.480 10 10 10 10-4.480 10-10S17.520 2 12 2zm0 18c-4.410 0-8-3.590-8-8 0-.29.02-.58.05-.86 2.360-1.050 4.230-2.980 5.210-5.370C11.070 8.330 14.050 10 17.420 10c.78 0 1.530-.09 2.250-.26.21.71.33 1.470.33 2.260 0 4.410-3.590 8-8 8z"/></svg>
<span class="t " style="top:394.02px;font-size:12.7px;color:#85858b;letter-spacing:0.090px;left:375.30px;">employee</span>
<span class="t " style="top:385.92px;font-size:12.7px;color:#2c2556;letter-spacing:0.025px;left:495.00px;">Araceli Rosalee</span>
<span class="t " style="top:385.92px;font-size:12.7px;color:#2c2556;letter-spacing:0.037px;left:635.20px;">Twingate Revie...</span>
<svg class="i" style="left:776.00px;top:378.42px;width:30px;height:26px;" viewBox="0 0 30 26"><path d="M14.7 5 9.3 9Q8.4 9.800 8.300 11L8 18.300 13 15.500 14.700 8.500z" fill="#08080c"/><path d="M17.700 7.300 12.500 10.800Q11.700 11.400 11.600 12.500L11.300 20.600 16.500 16.700Q17.600 15.800 17.600 14.500z" fill="#08080c" stroke="#fff" stroke-width="1.3" paint-order="stroke"/></svg>
<span class="t " style="top:378.22px;font-size:12.7px;color:#2c2556;letter-spacing:0.410px;left:806.30px;">Twingate</span>
<span class="t " style="top:393.62px;font-size:12.7px;color:#85858b;letter-spacing:-0.257px;left:806.40px;">VPN</span>
<span class="t " style="top:385.92px;font-size:12.7px;color:#2c2556;letter-spacing:0.081px;left:915.70px;">Sheldon Rama</span>
<div class="b" style="left:1056.00px;top:380.22px;width:109.00px;height:22.00px;background:#f5ecf3;border-radius:11.5px;"></div>
<svg class="i" style="left:1060.65px;top:384.07px;width:15.3px;height:15.3px;" viewBox="0 0 24 24"><path fill="#7f2b64" d="M13 11.330L18 18H6l5-6.670V6h2m2.960-4H8.040c-.42 0-.65.48-.39.81L9 4.500v6.170L3.200 18.400c-.49.66-.02 1.600.8 1.600h16c.82 0 1.290-.94.8-1.600L15 10.670V4.500l1.350-1.690c.26-.33.03-.81-.39-.81z"/></svg>
<span class="t " style="top:386.40px;font-size:10.9px;color:#7f2b64;font-weight:700;letter-spacing:-0.100px;left:1080.30px;">Overentitled</span>
<svg class="i" style="left:1145.85px;top:383.87px;width:15.5px;height:15.5px;" viewBox="0 0 24 24"><path fill="#ab6d9a" d="M19 19H5V5h7V3H5c-1.110 0-2 .9-2 2v14c0 1.100.89 2 2 2h14c1.100 0 2-.9 2-2v-7h-2v7zM14 3v2h3.590l-9.830 9.830 1.410 1.410L19 6.410V10h2V3h-7z"/></svg>
<div class="b" style="left:1200.00px;top:380.22px;width:74.20px;height:22.00px;background:#faf4e5;border-radius:11.5px;"></div>
<svg class="i" style="left:1204.40px;top:383.72px;width:15px;height:15px;" viewBox="0 0 24 24"><path fill="#c4972f" d="M1 21h22L12 2 1 21zm12-3h-2v-2h2v2zm0-4h-2v-4h2v4z"/></svg>
<span class="t " style="top:386.40px;font-size:10.9px;color:#c39a36;font-weight:700;letter-spacing:-0.287px;left:1224.00px;">Overdue</span>
<span class="t " style="top:385.32px;font-size:12.7px;color:#2c2556;left:1281.50px;">.</span>
<svg class="i" style="left:1439.30px;top:380.52px;width:21.8px;height:21.8px;" viewBox="0 0 24 24"><path fill="#1f1646" d="M12 4.500C7 4.500 2.730 7.610 1 12c1.730 4.390 6 7.500 11 7.500s9.270-3.110 11-7.500c-1.730-4.390-6-7.500-11-7.500zM12 17c-2.760 0-5-2.240-5-5s2.240-5 5-5 5 2.240 5 5-2.240 5-5 5zm0-8c-1.660 0-3 1.340-3 3s1.340 3 3 3 3-1.340 3-3-1.340-3-3-3z"/></svg>
<svg class="i" style="left:1464.35px;top:380.47px;width:21.9px;height:21.9px;" viewBox="0 0 24 24"><path fill="#1f1646" d="M19 3h-4.180C14.400 1.840 13.300 1 12 1c-1.300 0-2.400.84-2.820 2H5c-1.100 0-2 .9-2 2v14c0 1.100.9 2 2 2h14c1.100 0 2-.9 2-2V5c0-1.100-.9-2-2-2zm-7 0c.55 0 1 .45 1 1s-.45 1-1 1-1-.45-1-1 .45-1 1-1zm2 14H7v-2h7v2zm3-4H7v-2h10v2zm0-4H7V7h10v2z"/></svg>
</div>
<div class="tr">
<div class="b" style="left:305.00px;top:415.94px;width:1195.00px;height:1.00px;background:#ececef;"></div>
<div class="b" style="left:321.15px;top:436.59px;width:10.90px;height:10.90px;border:2px solid #939396;border-radius:2px;box-sizing:border-box;background:#fff;"></div>
<span class="t " style="top:428.14px;font-size:12.7px;color:#2c2556;font-weight:700;letter-spacing:-0.061px;left:355.30px;">reina.norbert...</span>
<svg class="i" style="left:355.55px;top:441.79px;width:16.3px;height:16.3px;" viewBox="0 0 24 24"><path fill="#7b7b80" d="M9 11.750c-.69 0-1.250.56-1.250 1.250s.56 1.250 1.250 1.250 1.250-.56 1.250-1.250-.56-1.250-1.250-1.250zm6 0c-.69 0-1.250.56-1.250 1.250s.56 1.250 1.250 1.250 1.250-.56 1.250-1.250-.56-1.250-1.250-1.250zM12 2C6.480 2 2 6.480 2 12s4.480 10 10 10 10-4.480 10-10S17.520 2 12 2zm0 18c-4.410 0-8-3.590-8-8 0-.29.02-.58.05-.86 2.360-1.050 4.230-2.980 5.210-5.370C11.070 8.330 14.050 10 17.420 10c.78 0 1.530-.09 2.250-.26.21.71.33 1.470.33 2.260 0 4.410-3.590 8-8 8z"/></svg>
<span class="t " style="top:444.44px;font-size:12.7px;color:#85858b;letter-spacing:0.090px;left:375.30px;">employee</span>
<span class="t " style="top:436.34px;font-size:12.7px;color:#2c2556;letter-spacing:0.170px;left:495.00px;">Reina Norbert</span>
<span class="t " style="top:436.34px;font-size:12.7px;color:#2c2556;letter-spacing:0.037px;left:635.20px;">Twingate Revie...</span>
<svg class="i" style="left:776.00px;top:428.84px;width:30px;height:26px;" viewBox="0 0 30 26"><path d="M14.7 5 9.3 9Q8.4 9.800 8.300 11L8 18.300 13 15.500 14.700 8.500z" fill="#08080c"/><path d="M17.700 7.300 12.500 10.800Q11.700 11.400 11.600 12.500L11.300 20.600 16.500 16.700Q17.600 15.800 17.600 14.500z" fill="#08080c" stroke="#fff" stroke-width="1.3" paint-order="stroke"/></svg>
<span class="t " style="top:428.64px;font-size:12.7px;color:#2c2556;letter-spacing:0.410px;left:806.30px;">Twingate</span>
<span class="t " style="top:444.04px;font-size:12.7px;color:#85858b;letter-spacing:-0.257px;left:806.40px;">VPN</span>
<span class="t " style="top:436.34px;font-size:12.7px;color:#2c2556;letter-spacing:0.081px;left:915.70px;">Sheldon Rama</span>
<div class="b" style="left:1200.00px;top:430.64px;width:74.20px;height:22.00px;background:#faf4e5;border-radius:11.5px;"></div>
<svg class="i" style="left:1204.40px;top:434.14px;width:15px;height:15px;" viewBox="0 0 24 24"><path fill="#c4972f" d="M1 21h22L12 2 1 21zm12-3h-2v-2h2v2zm0-4h-2v-4h2v4z"/></svg>
<span class="t " style="top:436.82px;font-size:10.9px;color:#c39a36;font-weight:700;letter-spacing:-0.287px;left:1224.00px;">Overdue</span>
<span class="t " style="top:435.74px;font-size:12.7px;color:#2c2556;left:1281.50px;">.</span>
<svg class="i" style="left:1439.30px;top:430.94px;width:21.8px;height:21.8px;" viewBox="0 0 24 24"><path fill="#1f1646" d="M12 4.500C7 4.500 2.730 7.610 1 12c1.730 4.390 6 7.500 11 7.500s9.270-3.110 11-7.500c-1.730-4.390-6-7.500-11-7.500zM12 17c-2.760 0-5-2.240-5-5s2.240-5 5-5 5 2.240 5 5-2.240 5-5 5zm0-8c-1.660 0-3 1.340-3 3s1.340 3 3 3 3-1.340 3-3-1.340-3-3-3z"/></svg>
<svg class="i" style="left:1464.35px;top:430.89px;width:21.9px;height:21.9px;" viewBox="0 0 24 24"><path fill="#1f1646" d="M19 3h-4.180C14.400 1.840 13.300 1 12 1c-1.300 0-2.400.84-2.820 2H5c-1.100 0-2 .9-2 2v14c0 1.100.9 2 2 2h14c1.100 0 2-.9 2-2V5c0-1.100-.9-2-2-2zm-7 0c.55 0 1 .45 1 1s-.45 1-1 1-1-.45-1-1 .45-1 1-1zm2 14H7v-2h7v2zm3-4H7v-2h10v2zm0-4H7V7h10v2z"/></svg>
</div>
<div class="tr">
<div class="b" style="left:305.00px;top:466.36px;width:1195.00px;height:1.00px;background:#ececef;"></div>
<div class="b" style="left:321.15px;top:487.01px;width:10.90px;height:10.90px;border:2px solid #939396;border-radius:2px;box-sizing:border-box;background:#fff;"></div>
<span class="t " style="top:478.56px;font-size:12.7px;color:#2c2556;font-weight:700;letter-spacing:-0.244px;left:355.30px;">dorris.stevie@...</span>
<svg class="i" style="left:355.55px;top:492.21px;width:16.3px;height:16.3px;" viewBox="0 0 24 24"><path fill="#7b7b80" d="M9 11.750c-.69 0-1.250.56-1.250 1.250s.56 1.250 1.250 1.250 1.250-.56 1.250-1.250-.56-1.250-1.250-1.250zm6 0c-.69 0-1.250.56-1.250 1.250s.56 1.250 1.250 1.250 1.250-.56 1.250-1.250-.56-1.250-1.250-1.250zM12 2C6.480 2 2 6.480 2 12s4.480 10 10 10 10-4.480 10-10S17.520 2 12 2zm0 18c-4.410 0-8-3.590-8-8 0-.29.02-.58.05-.86 2.360-1.050 4.230-2.980 5.210-5.370C11.070 8.330 14.050 10 17.420 10c.78 0 1.530-.09 2.250-.26.21.71.33 1.470.33 2.260 0 4.410-3.590 8-8 8z"/></svg>
<span class="t " style="top:494.86px;font-size:12.7px;color:#85858b;letter-spacing:0.090px;left:375.30px;">employee</span>
<span class="t " style="top:486.76px;font-size:12.7px;color:#2c2556;letter-spacing:0.051px;left:495.00px;">Dorris Stevie</span>
<span class="t " style="top:486.76px;font-size:12.7px;color:#2c2556;letter-spacing:0.037px;left:635.20px;">Twingate Revie...</span>
<svg class="i" style="left:776.00px;top:479.26px;width:30px;height:26px;" viewBox="0 0 30 26"><path d="M14.7 5 9.3 9Q8.4 9.800 8.300 11L8 18.300 13 15.500 14.700 8.500z" fill="#08080c"/><path d="M17.700 7.300 12.500 10.800Q11.700 11.400 11.600 12.500L11.300 20.600 16.500 16.700Q17.600 15.800 17.600 14.500z" fill="#08080c" stroke="#fff" stroke-width="1.3" paint-order="stroke"/></svg>
<span class="t " style="top:479.06px;font-size:12.7px;color:#2c2556;letter-spacing:0.410px;left:806.30px;">Twingate</span>
<span class="t " style="top:494.46px;font-size:12.7px;color:#85858b;letter-spacing:-0.257px;left:806.40px;">VPN</span>
<span class="t " style="top:486.76px;font-size:12.7px;color:#2c2556;letter-spacing:0.052px;left:915.70px;">Susie Salvador</span>
<div class="b" style="left:1056.00px;top:481.06px;width:109.00px;height:22.00px;background:#f5ecf3;border-radius:11.5px;"></div>
<svg class="i" style="left:1060.65px;top:484.91px;width:15.3px;height:15.3px;" viewBox="0 0 24 24"><path fill="#7f2b64" d="M13 11.330L18 18H6l5-6.670V6h2m2.960-4H8.040c-.42 0-.65.48-.39.81L9 4.500v6.170L3.200 18.400c-.49.66-.02 1.600.8 1.600h16c.82 0 1.290-.94.8-1.600L15 10.670V4.500l1.350-1.690c.26-.33.03-.81-.39-.81z"/></svg>
<span class="t " style="top:487.24px;font-size:10.9px;color:#7f2b64;font-weight:700;letter-spacing:-0.100px;left:1080.30px;">Overentitled</span>
<svg class="i" style="left:1145.85px;top:484.71px;width:15.5px;height:15.5px;" viewBox="0 0 24 24"><path fill="#ab6d9a" d="M19 19H5V5h7V3H5c-1.110 0-2 .9-2 2v14c0 1.100.89 2 2 2h14c1.100 0 2-.9 2-2v-7h-2v7zM14 3v2h3.590l-9.830 9.830 1.410 1.410L19 6.410V10h2V3h-7z"/></svg>
<div class="b" style="left:1200.00px;top:481.06px;width:74.20px;height:22.00px;background:#faf4e5;border-radius:11.5px;"></div>
<svg class="i" style="left:1204.40px;top:484.56px;width:15px;height:15px;" viewBox="0 0 24 24"><path fill="#c4972f" d="M1 21h22L12 2 1 21zm12-3h-2v-2h2v2zm0-4h-2v-4h2v4z"/></svg>
<span class="t " style="top:487.24px;font-size:10.9px;color:#c39a36;font-weight:700;letter-spacing:-0.287px;left:1224.00px;">Overdue</span>
<span class="t " style="top:486.16px;font-size:12.7px;color:#2c2556;left:1281.50px;">.</span>
<svg class="i" style="left:1439.30px;top:481.36px;width:21.8px;height:21.8px;" viewBox="0 0 24 24"><path fill="#1f1646" d="M12 4.500C7 4.500 2.730 7.610 1 12c1.730 4.390 6 7.500 11 7.500s9.270-3.110 11-7.500c-1.730-4.390-6-7.500-11-7.500zM12 17c-2.760 0-5-2.240-5-5s2.240-5 5-5 5 2.240 5 5-2.240 5-5 5zm0-8c-1.660 0-3 1.340-3 3s1.340 3 3 3 3-1.340 3-3-1.340-3-3-3z"/></svg>
<svg class="i" style="left:1464.35px;top:481.31px;width:21.9px;height:21.9px;" viewBox="0 0 24 24"><path fill="#1f1646" d="M19 3h-4.180C14.400 1.840 13.300 1 12 1c-1.300 0-2.400.84-2.820 2H5c-1.100 0-2 .9-2 2v14c0 1.100.9 2 2 2h14c1.100 0 2-.9 2-2V5c0-1.100-.9-2-2-2zm-7 0c.55 0 1 .45 1 1s-.45 1-1 1-1-.45-1-1 .45-1 1-1zm2 14H7v-2h7v2zm3-4H7v-2h10v2zm0-4H7V7h10v2z"/></svg>
</div>
<div class="tr">
<div class="b" style="left:305.00px;top:516.78px;width:1195.00px;height:1.00px;background:#ececef;"></div>
<div class="b" style="left:321.15px;top:537.43px;width:10.90px;height:10.90px;border:2px solid #939396;border-radius:2px;box-sizing:border-box;background:#fff;"></div>
<span class="t " style="top:528.98px;font-size:12.7px;color:#2c2556;font-weight:700;letter-spacing:-0.143px;left:355.30px;">pierre.winston...</span>
<svg class="i" style="left:355.55px;top:542.63px;width:16.3px;height:16.3px;" viewBox="0 0 24 24"><path fill="#7b7b80" d="M9 11.750c-.69 0-1.250.56-1.250 1.250s.56 1.250 1.250 1.250 1.250-.56 1.250-1.250-.56-1.250-1.250-1.250zm6 0c-.69 0-1.250.56-1.250 1.250s.56 1.250 1.250 1.250 1.250-.56 1.250-1.250-.56-1.250-1.250-1.250zM12 2C6.480 2 2 6.480 2 12s4.480 10 10 10 10-4.480 10-10S17.520 2 12 2zm0 18c-4.410 0-8-3.590-8-8 0-.29.02-.58.05-.86 2.360-1.050 4.230-2.980 5.210-5.370C11.070 8.330 14.050 10 17.420 10c.78 0 1.530-.09 2.250-.26.21.71.33 1.470.33 2.260 0 4.410-3.590 8-8 8z"/></svg>
<span class="t " style="top:545.28px;font-size:12.7px;color:#85858b;letter-spacing:0.090px;left:375.30px;">employee</span>
<span class="t " style="top:537.18px;font-size:12.7px;color:#2c2556;letter-spacing:0.217px;left:495.00px;">Pierre Winston</span>
<span class="t " style="top:537.18px;font-size:12.7px;color:#2c2556;letter-spacing:0.037px;left:635.20px;">Twingate Revie...</span>
<svg class="i" style="left:776.00px;top:529.68px;width:30px;height:26px;" viewBox="0 0 30 26"><path d="M14.7 5 9.3 9Q8.4 9.800 8.300 11L8 18.300 13 15.500 14.700 8.500z" fill="#08080c"/><path d="M17.700 7.300 12.500 10.800Q11.700 11.400 11.600 12.500L11.300 20.600 16.500 16.700Q17.600 15.800 17.600 14.500z" fill="#08080c" stroke="#fff" stroke-width="1.3" paint-order="stroke"/></svg>
<span class="t " style="top:529.48px;font-size:12.7px;color:#2c2556;letter-spacing:0.410px;left:806.30px;">Twingate</span>
<span class="t " style="top:544.88px;font-size:12.7px;color:#85858b;letter-spacing:-0.257px;left:806.40px;">VPN</span>
<span class="t " style="top:537.18px;font-size:12.7px;color:#2c2556;letter-spacing:0.081px;left:915.70px;">Sheldon Rama</span>
<div class="b" style="left:1056.00px;top:531.48px;width:109.00px;height:22.00px;background:#f5ecf3;border-radius:11.5px;"></div>
<svg class="i" style="left:1060.65px;top:535.33px;width:15.3px;height:15.3px;" viewBox="0 0 24 24"><path fill="#7f2b64" d="M13 11.330L18 18H6l5-6.670V6h2m2.960-4H8.040c-.42 0-.65.48-.39.81L9 4.500v6.170L3.200 18.400c-.49.66-.02 1.600.8 1.600h16c.82 0 1.290-.94.8-1.600L15 10.670V4.500l1.350-1.690c.26-.33.03-.81-.39-.81z"/></svg>
<span class="t " style="top:537.66px;font-size:10.9px;color:#7f2b64;font-weight:700;letter-spacing:-0.100px;left:1080.30px;">Overentitled</span>
<svg class="i" style="left:1145.85px;top:535.13px;width:15.5px;height:15.5px;" viewBox="0 0 24 24"><path fill="#ab6d9a" d="M19 19H5V5h7V3H5c-1.110 0-2 .9-2 2v14c0 1.100.89 2 2 2h14c1.100 0 2-.9 2-2v-7h-2v7zM14 3v2h3.590l-9.830 9.830 1.410 1.410L19 6.410V10h2V3h-7z"/></svg>
<div class="b" style="left:1200.00px;top:531.48px;width:74.20px;height:22.00px;background:#faf4e5;border-radius:11.5px;"></div>
<svg class="i" style="left:1204.40px;top:534.98px;width:15px;height:15px;" viewBox="0 0 24 24"><path fill="#c4972f" d="M1 21h22L12 2 1 21zm12-3h-2v-2h2v2zm0-4h-2v-4h2v4z"/></svg>
<span class="t " style="top:537.66px;font-size:10.9px;color:#c39a36;font-weight:700;letter-spacing:-0.287px;left:1224.00px;">Overdue</span>
<span class="t " style="top:536.58px;font-size:12.7px;color:#2c2556;left:1281.50px;">.</span>
<svg class="i" style="left:1439.30px;top:531.78px;width:21.8px;height:21.8px;" viewBox="0 0 24 24"><path fill="#1f1646" d="M12 4.500C7 4.500 2.730 7.610 1 12c1.730 4.390 6 7.500 11 7.500s9.270-3.110 11-7.500c-1.730-4.390-6-7.500-11-7.500zM12 17c-2.760 0-5-2.240-5-5s2.240-5 5-5 5 2.240 5 5-2.240 5-5 5zm0-8c-1.660 0-3 1.340-3 3s1.340 3 3 3 3-1.340 3-3-1.340-3-3-3z"/></svg>
<svg class="i" style="left:1464.35px;top:531.73px;width:21.9px;height:21.9px;" viewBox="0 0 24 24"><path fill="#1f1646" d="M19 3h-4.180C14.400 1.840 13.300 1 12 1c-1.300 0-2.400.84-2.820 2H5c-1.100 0-2 .9-2 2v14c0 1.100.9 2 2 2h14c1.100 0 2-.9 2-2V5c0-1.100-.9-2-2-2zm-7 0c.55 0 1 .45 1 1s-.45 1-1 1-1-.45-1-1 .45-1 1-1zm2 14H7v-2h7v2zm3-4H7v-2h10v2zm0-4H7V7h10v2z"/></svg>
</div>
<div class="tr">
<div class="b" style="left:305.00px;top:567.20px;width:1195.00px;height:1.00px;background:#ececef;"></div>
<div class="b" style="left:321.15px;top:587.85px;width:10.90px;height:10.90px;border:2px solid #939396;border-radius:2px;box-sizing:border-box;background:#fff;"></div>
<span class="t " style="top:587.40px;font-size:12.7px;color:#2c2556;font-weight:700;letter-spacing:-0.127px;left:355.30px;">madisen.trace...</span>
<span class="t " style="top:587.60px;font-size:12.7px;color:#2c2556;letter-spacing:0.073px;left:495.00px;">Madisen Tracey</span>
<span class="t " style="top:587.60px;font-size:12.7px;color:#2c2556;letter-spacing:0.037px;left:635.20px;">Twingate Revie...</span>
<svg class="i" style="left:776.00px;top:580.10px;width:30px;height:26px;" viewBox="0 0 30 26"><path d="M14.7 5 9.3 9Q8.4 9.800 8.300 11L8 18.300 13 15.500 14.700 8.500z" fill="#08080c"/><path d="M17.700 7.300 12.500 10.800Q11.700 11.400 11.600 12.500L11.300 20.600 16.500 16.700Q17.600 15.800 17.600 14.500z" fill="#08080c" stroke="#fff" stroke-width="1.3" paint-order="stroke"/></svg>
<span class="t " style="top:579.90px;font-size:12.7px;color:#2c2556;letter-spacing:0.410px;left:806.30px;">Twingate</span>
<span class="t " style="top:595.30px;font-size:12.7px;color:#85858b;letter-spacing:-0.257px;left:806.40px;">VPN</span>
<span class="t " style="top:587.60px;font-size:12.7px;color:#2c2556;letter-spacing:0.052px;left:915.70px;">Susie Salvador</span>
<div class="b" style="left:1200.00px;top:581.90px;width:74.20px;height:22.00px;background:#faf4e5;border-radius:11.5px;"></div>
<svg class="i" style="left:1204.40px;top:585.40px;width:15px;height:15px;" viewBox="0 0 24 24"><path fill="#c4972f" d="M1 21h22L12 2 1 21zm12-3h-2v-2h2v2zm0-4h-2v-4h2v4z"/></svg>
<span class="t " style="top:588.08px;font-size:10.9px;color:#c39a36;font-weight:700;letter-spacing:-0.287px;left:1224.00px;">Overdue</span>
<span class="t " style="top:587.00px;font-size:12.7px;color:#2c2556;left:1281.50px;">.</span>
<svg class="i" style="left:1439.30px;top:582.20px;width:21.8px;height:21.8px;" viewBox="0 0 24 24"><path fill="#1f1646" d="M12 4.500C7 4.500 2.730 7.610 1 12c1.730 4.390 6 7.500 11 7.500s9.270-3.110 11-7.500c-1.730-4.390-6-7.500-11-7.500zM12 17c-2.760 0-5-2.240-5-5s2.240-5 5-5 5 2.240 5 5-2.240 5-5 5zm0-8c-1.660 0-3 1.340-3 3s1.340 3 3 3 3-1.340 3-3-1.340-3-3-3z"/></svg>
<svg class="i" style="left:1464.35px;top:582.15px;width:21.9px;height:21.9px;" viewBox="0 0 24 24"><path fill="#1f1646" d="M19 3h-4.180C14.400 1.840 13.300 1 12 1c-1.300 0-2.400.84-2.820 2H5c-1.100 0-2 .9-2 2v14c0 1.100.9 2 2 2h14c1.100 0 2-.9 2-2V5c0-1.100-.9-2-2-2zm-7 0c.55 0 1 .45 1 1s-.45 1-1 1-1-.45-1-1 .45-1 1-1zm2 14H7v-2h7v2zm3-4H7v-2h10v2zm0-4H7V7h10v2z"/></svg>
</div>
<div class="tr">
<div class="b" style="left:305.00px;top:617.62px;width:1195.00px;height:1.00px;background:#ececef;"></div>
<div class="b" style="left:321.15px;top:638.27px;width:10.90px;height:10.90px;border:2px solid #939396;border-radius:2px;box-sizing:border-box;background:#fff;"></div>
<span class="t " style="top:629.82px;font-size:12.7px;color:#2c2556;font-weight:700;letter-spacing:-0.248px;left:355.30px;">kellie_oliver@y...</span>
<svg class="i" style="left:355.55px;top:643.47px;width:16.3px;height:16.3px;" viewBox="0 0 24 24"><path fill="#7b7b80" d="M9 11.750c-.69 0-1.250.56-1.250 1.250s.56 1.250 1.250 1.250 1.250-.56 1.250-1.250-.56-1.250-1.250-1.250zm6 0c-.69 0-1.250.56-1.250 1.250s.56 1.250 1.250 1.250 1.250-.56 1.250-1.250-.56-1.250-1.250-1.250zM12 2C6.480 2 2 6.480 2 12s4.480 10 10 10 10-4.480 10-10S17.520 2 12 2zm0 18c-4.410 0-8-3.590-8-8 0-.29.02-.58.05-.86 2.360-1.050 4.230-2.980 5.210-5.370C11.070 8.330 14.050 10 17.420 10c.78 0 1.530-.09 2.250-.26.21.71.33 1.470.33 2.260 0 4.410-3.590 8-8 8z"/></svg>
<span class="t " style="top:646.12px;font-size:12.7px;color:#85858b;letter-spacing:0.090px;left:375.30px;">employee</span>
<span class="t " style="top:638.02px;font-size:12.7px;color:#2c2556;letter-spacing:-0.063px;left:495.00px;">Kellie Oliver</span>
<span class="t " style="top:638.02px;font-size:12.7px;color:#2c2556;letter-spacing:0.037px;left:635.20px;">Twingate Revie...</span>
<svg class="i" style="left:776.00px;top:630.52px;width:30px;height:26px;" viewBox="0 0 30 26"><path d="M14.7 5 9.3 9Q8.4 9.800 8.300 11L8 18.300 13 15.500 14.700 8.500z" fill="#08080c"/><path d="M17.700 7.300 12.500 10.800Q11.700 11.400 11.600 12.500L11.300 20.600 16.500 16.700Q17.600 15.800 17.600 14.500z" fill="#08080c" stroke="#fff" stroke-width="1.3" paint-order="stroke"/></svg>
<span class="t " style="top:630.32px;font-size:12.7px;color:#2c2556;letter-spacing:0.410px;left:806.30px;">Twingate</span>
<span class="t " style="top:645.72px;font-size:12.7px;color:#85858b;letter-spacing:-0.257px;left:806.40px;">VPN</span>
<span class="t " style="top:638.02px;font-size:12.7px;color:#2c2556;letter-spacing:0.052px;left:915.70px;">Susie Salvador</span>
<div class="b" style="left:1200.00px;top:632.32px;width:74.20px;height:22.00px;background:#faf4e5;border-radius:11.5px;"></div>
<svg class="i" style="left:1204.40px;top:635.82px;width:15px;height:15px;" viewBox="0 0 24 24"><path fill="#c4972f" d="M1 21h22L12 2 1 21zm12-3h-2v-2h2v2zm0-4h-2v-4h2v4z"/></svg>
<span class="t " style="top:638.50px;font-size:10.9px;color:#c39a36;font-weight:700;letter-spacing:-0.287px;left:1224.00px;">Overdue</span>
<span class="t " style="top:637.42px;font-size:12.7px;color:#2c2556;left:1281.50px;">.</span>
<svg class="i" style="left:1439.30px;top:632.62px;width:21.8px;height:21.8px;" viewBox="0 0 24 24"><path fill="#1f1646" d="M12 4.500C7 4.500 2.730 7.610 1 12c1.730 4.390 6 7.500 11 7.500s9.270-3.110 11-7.500c-1.730-4.390-6-7.500-11-7.500zM12 17c-2.760 0-5-2.240-5-5s2.240-5 5-5 5 2.240 5 5-2.240 5-5 5zm0-8c-1.660 0-3 1.340-3 3s1.340 3 3 3 3-1.340 3-3-1.340-3-3-3z"/></svg>
<svg class="i" style="left:1464.35px;top:632.57px;width:21.9px;height:21.9px;" viewBox="0 0 24 24"><path fill="#1f1646" d="M19 3h-4.180C14.400 1.840 13.300 1 12 1c-1.300 0-2.400.84-2.820 2H5c-1.100 0-2 .9-2 2v14c0 1.100.9 2 2 2h14c1.100 0 2-.9 2-2V5c0-1.100-.9-2-2-2zm-7 0c.55 0 1 .45 1 1s-.45 1-1 1-1-.45-1-1 .45-1 1-1zm2 14H7v-2h7v2zm3-4H7v-2h10v2zm0-4H7V7h10v2z"/></svg>
</div>
<div class="tr">
<div class="b" style="left:305.00px;top:668.04px;width:1195.00px;height:1.00px;background:#ececef;"></div>
<div class="b" style="left:321.15px;top:688.69px;width:10.90px;height:10.90px;border:2px solid #939396;border-radius:2px;box-sizing:border-box;background:#fff;"></div>
<span class="t " style="top:680.24px;font-size:12.7px;color:#2c2556;font-weight:700;letter-spacing:-0.173px;left:355.30px;">don.alice@yah...</span>
<svg class="i" style="left:355.55px;top:693.89px;width:16.3px;height:16.3px;" viewBox="0 0 24 24"><path fill="#7b7b80" d="M9 11.750c-.69 0-1.250.56-1.250 1.250s.56 1.250 1.250 1.250 1.250-.56 1.250-1.250-.56-1.250-1.250-1.250zm6 0c-.69 0-1.250.56-1.250 1.250s.56 1.250 1.250 1.250 1.250-.56 1.250-1.250-.56-1.250-1.250-1.250zM12 2C6.480 2 2 6.480 2 12s4.480 10 10 10 10-4.480 10-10S17.520 2 12 2zm0 18c-4.410 0-8-3.590-8-8 0-.29.02-.58.05-.86 2.360-1.050 4.230-2.980 5.210-5.370C11.070 8.330 14.050 10 17.420 10c.78 0 1.530-.09 2.250-.26.21.71.33 1.470.33 2.260 0 4.410-3.590 8-8 8z"/></svg>
<span class="t " style="top:696.54px;font-size:12.7px;color:#85858b;letter-spacing:0.090px;left:375.30px;">employee</span>
<span class="t " style="top:688.44px;font-size:12.7px;color:#2c2556;letter-spacing:0.168px;left:495.00px;">Don Alice</span>
<span class="t " style="top:688.44px;font-size:12.7px;color:#2c2556;letter-spacing:0.037px;left:635.20px;">Twingate Revie...</span>
<svg class="i" style="left:776.00px;top:680.94px;width:30px;height:26px;" viewBox="0 0 30 26"><path d="M14.7 5 9.3 9Q8.4 9.800 8.300 11L8 18.300 13 15.500 14.700 8.500z" fill="#08080c"/><path d="M17.700 7.300 12.500 10.800Q11.700 11.400 11.600 12.500L11.300 20.600 16.500 16.700Q17.600 15.800 17.600 14.500z" fill="#08080c" stroke="#fff" stroke-width="1.3" paint-order="stroke"/></svg>
<span class="t " style="top:680.74px;font-size:12.7px;color:#2c2556;letter-spacing:0.410px;left:806.30px;">Twingate</span>
<span class="t " style="top:696.14px;font-size:12.7px;color:#85858b;letter-spacing:-0.257px;left:806.40px;">VPN</span>
<span class="t " style="top:688.44px;font-size:12.7px;color:#2c2556;letter-spacing:0.052px;left:915.70px;">Susie Salvador</span>
<div class="b" style="left:1056.00px;top:682.74px;width:109.00px;height:22.00px;background:#f5ecf3;border-radius:11.5px;"></div>
<svg class="i" style="left:1060.65px;top:686.59px;width:15.3px;height:15.3px;" viewBox="0 0 24 24"><path fill="#7f2b64" d="M13 11.330L18 18H6l5-6.670V6h2m2.960-4H8.040c-.42 0-.65.48-.39.81L9 4.500v6.170L3.200 18.400c-.49.66-.02 1.600.8 1.600h16c.82 0 1.290-.94.8-1.600L15 10.670V4.500l1.350-1.690c.26-.33.03-.81-.39-.81z"/></svg>
<span class="t " style="top:688.92px;font-size:10.9px;color:#7f2b64;font-weight:700;letter-spacing:-0.100px;left:1080.30px;">Overentitled</span>
<svg class="i" style="left:1145.85px;top:686.39px;width:15.5px;height:15.5px;" viewBox="0 0 24 24"><path fill="#ab6d9a" d="M19 19H5V5h7V3H5c-1.110 0-2 .9-2 2v14c0 1.100.89 2 2 2h14c1.100 0 2-.9 2-2v-7h-2v7zM14 3v2h3.590l-9.830 9.830 1.410 1.410L19 6.410V10h2V3h-7z"/></svg>
<div class="b" style="left:1200.00px;top:682.74px;width:74.20px;height:22.00px;background:#faf4e5;border-radius:11.5px;"></div>
<svg class="i" style="left:1204.40px;top:686.24px;width:15px;height:15px;" viewBox="0 0 24 24"><path fill="#c4972f" d="M1 21h22L12 2 1 21zm12-3h-2v-2h2v2zm0-4h-2v-4h2v4z"/></svg>
<span class="t " style="top:688.92px;font-size:10.9px;color:#c39a36;font-weight:700;letter-spacing:-0.287px;left:1224.00px;">Overdue</span>
<span class="t " style="top:687.84px;font-size:12.7px;color:#2c2556;left:1281.50px;">.</span>
<svg class="i" style="left:1439.30px;top:683.04px;width:21.8px;height:21.8px;" viewBox="0 0 24 24"><path fill="#1f1646" d="M12 4.500C7 4.500 2.730 7.610 1 12c1.730 4.390 6 7.500 11 7.500s9.270-3.110 11-7.500c-1.730-4.390-6-7.500-11-7.500zM12 17c-2.760 0-5-2.240-5-5s2.240-5 5-5 5 2.240 5 5-2.240 5-5 5zm0-8c-1.660 0-3 1.340-3 3s1.340 3 3 3 3-1.340 3-3-1.340-3-3-3z"/></svg>
<svg class="i" style="left:1464.35px;top:682.99px;width:21.9px;height:21.9px;" viewBox="0 0 24 24"><path fill="#1f1646" d="M19 3h-4.180C14.400 1.840 13.300 1 12 1c-1.300 0-2.400.84-2.820 2H5c-1.100 0-2 .9-2 2v14c0 1.100.9 2 2 2h14c1.100 0 2-.9 2-2V5c0-1.100-.9-2-2-2zm-7 0c.55 0 1 .45 1 1s-.45 1-1 1-1-.45-1-1 .45-1 1-1zm2 14H7v-2h7v2zm3-4H7v-2h10v2zm0-4H7V7h10v2z"/></svg>
</div>
<div class="tr">
<div class="b" style="left:305.00px;top:718.46px;width:1195.00px;height:1.00px;background:#ececef;"></div>
<div class="b" style="left:321.15px;top:739.11px;width:10.90px;height:10.90px;border:2px solid #939396;border-radius:2px;box-sizing:border-box;background:#fff;"></div>
<span class="t " style="top:730.66px;font-size:12.7px;color:#2c2556;font-weight:700;letter-spacing:0.117px;left:355.30px;">andrew.pat@y...</span>
<svg class="i" style="left:355.55px;top:744.31px;width:16.3px;height:16.3px;" viewBox="0 0 24 24"><path fill="#7b7b80" d="M9 11.750c-.69 0-1.250.56-1.250 1.250s.56 1.250 1.250 1.250 1.250-.56 1.250-1.250-.56-1.250-1.250-1.250zm6 0c-.69 0-1.250.56-1.250 1.250s.56 1.250 1.250 1.250 1.250-.56 1.250-1.250-.56-1.250-1.250-1.250zM12 2C6.480 2 2 6.480 2 12s4.480 10 10 10 10-4.480 10-10S17.520 2 12 2zm0 18c-4.410 0-8-3.590-8-8 0-.29.02-.58.05-.86 2.360-1.050 4.230-2.980 5.210-5.370C11.070 8.330 14.050 10 17.420 10c.78 0 1.530-.09 2.250-.26.21.71.33 1.470.33 2.260 0 4.410-3.590 8-8 8z"/></svg>
<span class="t " style="top:746.96px;font-size:12.7px;color:#85858b;letter-spacing:0.090px;left:375.30px;">employee</span>
<span class="t " style="top:738.86px;font-size:12.7px;color:#2c2556;letter-spacing:0.372px;left:495.00px;">Andrew Pat</span>
<span class="t " style="top:738.86px;font-size:12.7px;color:#2c2556;letter-spacing:0.037px;left:635.20px;">Twingate Revie...</span>
<svg class="i" style="left:776.00px;top:731.36px;width:30px;height:26px;" viewBox="0 0 30 26"><path d="M14.7 5 9.3 9Q8.4 9.800 8.300 11L8 18.300 13 15.500 14.700 8.500z" fill="#08080c"/><path d="M17.700 7.300 12.500 10.800Q11.700 11.400 11.600 12.500L11.300 20.600 16.500 16.700Q17.600 15.800 17.600 14.500z" fill="#08080c" stroke="#fff" stroke-width="1.3" paint-order="stroke"/></svg>
<span class="t " style="top:731.16px;font-size:12.7px;color:#2c2556;letter-spacing:0.410px;left:806.30px;">Twingate</span>
<span class="t " style="top:746.56px;font-size:12.7px;color:#85858b;letter-spacing:-0.257px;left:806.40px;">VPN</span>
<span class="t " style="top:738.86px;font-size:12.7px;color:#2c2556;letter-spacing:0.052px;left:915.70px;">Susie Salvador</span>
<div class="b" style="left:1056.00px;top:733.16px;width:109.00px;height:22.00px;background:#f5ecf3;border-radius:11.5px;"></div>
<svg class="i" style="left:1060.65px;top:737.01px;width:15.3px;height:15.3px;" viewBox="0 0 24 24"><path fill="#7f2b64" d="M13 11.330L18 18H6l5-6.670V6h2m2.960-4H8.040c-.42 0-.65.48-.39.81L9 4.500v6.170L3.200 18.400c-.49.66-.02 1.600.8 1.600h16c.82 0 1.290-.94.8-1.600L15 10.670V4.500l1.350-1.690c.26-.33.03-.81-.39-.81z"/></svg>
<span class="t " style="top:739.34px;font-size:10.9px;color:#7f2b64;font-weight:700;letter-spacing:-0.100px;left:1080.30px;">Overentitled</span>
<svg class="i" style="left:1145.85px;top:736.81px;width:15.5px;height:15.5px;" viewBox="0 0 24 24"><path fill="#ab6d9a" d="M19 19H5V5h7V3H5c-1.110 0-2 .9-2 2v14c0 1.100.89 2 2 2h14c1.100 0 2-.9 2-2v-7h-2v7zM14 3v2h3.590l-9.830 9.830 1.410 1.410L19 6.410V10h2V3h-7z"/></svg>
<div class="b" style="left:1200.00px;top:733.16px;width:74.20px;height:22.00px;background:#faf4e5;border-radius:11.5px;"></div>
<svg class="i" style="left:1204.40px;top:736.66px;width:15px;height:15px;" viewBox="0 0 24 24"><path fill="#c4972f" d="M1 21h22L12 2 1 21zm12-3h-2v-2h2v2zm0-4h-2v-4h2v4z"/></svg>
<span class="t " style="top:739.34px;font-size:10.9px;color:#c39a36;font-weight:700;letter-spacing:-0.287px;left:1224.00px;">Overdue</span>
<span class="t " style="top:738.26px;font-size:12.7px;color:#2c2556;left:1281.50px;">.</span>
<svg class="i" style="left:1439.30px;top:733.46px;width:21.8px;height:21.8px;" viewBox="0 0 24 24"><path fill="#1f1646" d="M12 4.500C7 4.500 2.730 7.610 1 12c1.730 4.390 6 7.500 11 7.500s9.270-3.110 11-7.500c-1.730-4.390-6-7.500-11-7.500zM12 17c-2.760 0-5-2.240-5-5s2.240-5 5-5 5 2.240 5 5-2.240 5-5 5zm0-8c-1.660 0-3 1.340-3 3s1.340 3 3 3 3-1.340 3-3-1.340-3-3-3z"/></svg>
<svg class="i" style="left:1464.35px;top:733.41px;width:21.9px;height:21.9px;" viewBox="0 0 24 24"><path fill="#1f1646" d="M19 3h-4.180C14.400 1.840 13.300 1 12 1c-1.300 0-2.400.84-2.820 2H5c-1.100 0-2 .9-2 2v14c0 1.100.9 2 2 2h14c1.100 0 2-.9 2-2V5c0-1.100-.9-2-2-2zm-7 0c.55 0 1 .45 1 1s-.45 1-1 1-1-.45-1-1 .45-1 1-1zm2 14H7v-2h7v2zm3-4H7v-2h10v2zm0-4H7V7h10v2z"/></svg>
</div>
<div class="tr">
<div class="b" style="left:305.00px;top:768.88px;width:1195.00px;height:1.00px;background:#ececef;"></div>
<div class="b" style="left:321.15px;top:789.53px;width:10.90px;height:10.90px;border:2px solid #939396;border-radius:2px;box-sizing:border-box;background:#fff;"></div>
<span class="t " style="top:781.08px;font-size:12.7px;color:#2c2556;font-weight:700;letter-spacing:-0.110px;left:355.30px;">kellie.arnaldo...</span>
<svg class="i" style="left:355.55px;top:794.73px;width:16.3px;height:16.3px;" viewBox="0 0 24 24"><path fill="#7b7b80" d="M9 11.750c-.69 0-1.250.56-1.250 1.250s.56 1.250 1.250 1.250 1.250-.56 1.250-1.250-.56-1.250-1.250-1.250zm6 0c-.69 0-1.250.56-1.250 1.250s.56 1.250 1.250 1.250 1.250-.56 1.250-1.250-.56-1.250-1.250-1.250zM12 2C6.480 2 2 6.480 2 12s4.480 10 10 10 10-4.480 10-10S17.520 2 12 2zm0 18c-4.410 0-8-3.590-8-8 0-.29.02-.58.05-.86 2.360-1.050 4.230-2.980 5.210-5.370C11.070 8.330 14.050 10 17.420 10c.78 0 1.530-.09 2.250-.26.21.71.33 1.470.33 2.260 0 4.410-3.590 8-8 8z"/></svg>
<span class="t " style="top:797.38px;font-size:12.7px;color:#85858b;letter-spacing:0.090px;left:375.30px;">employee</span>
<span class="t " style="top:789.28px;font-size:12.7px;color:#2c2556;letter-spacing:0.299px;left:495.00px;">Arnaldo Darian</span>
<span class="t " style="top:789.28px;font-size:12.7px;color:#2c2556;letter-spacing:0.037px;left:635.20px;">Twingate Revie...</span>
<svg class="i" style="left:776.00px;top:781.78px;width:30px;height:26px;" viewBox="0 0 30 26"><path d="M14.7 5 9.3 9Q8.4 9.800 8.300 11L8 18.300 13 15.500 14.700 8.500z" fill="#08080c"/><path d="M17.700 7.300 12.500 10.800Q11.700 11.400 11.600 12.500L11.300 20.600 16.500 16.700Q17.600 15.800 17.600 14.500z" fill="#08080c" stroke="#fff" stroke-width="1.3" paint-order="stroke"/></svg>
<span class="t " style="top:781.58px;font-size:12.7px;color:#2c2556;letter-spacing:0.410px;left:806.30px;">Twingate</span>
<span class="t " style="top:796.98px;font-size:12.7px;color:#85858b;letter-spacing:-0.257px;left:806.40px;">VPN</span>
<span class="t " style="top:789.28px;font-size:12.7px;color:#2c2556;letter-spacing:0.052px;left:915.70px;">Susie Salvador</span>
<div class="b" style="left:1056.00px;top:783.58px;width:109.00px;height:22.00px;background:#f5ecf3;border-radius:11.5px;"></div>
<svg class="i" style="left:1060.65px;top:787.43px;width:15.3px;height:15.3px;" viewBox="0 0 24 24"><path fill="#7f2b64" d="M13 11.330L18 18H6l5-6.670V6h2m2.960-4H8.040c-.42 0-.65.48-.39.81L9 4.500v6.170L3.200 18.400c-.49.66-.02 1.600.8 1.600h16c.82 0 1.290-.94.8-1.600L15 10.670V4.500l1.350-1.690c.26-.33.03-.81-.39-.81z"/></svg>
<span class="t " style="top:789.76px;font-size:10.9px;color:#7f2b64;font-weight:700;letter-spacing:-0.100px;left:1080.30px;">Overentitled</span>
<svg class="i" style="left:1145.85px;top:787.23px;width:15.5px;height:15.5px;" viewBox="0 0 24 24"><path fill="#ab6d9a" d="M19 19H5V5h7V3H5c-1.110 0-2 .9-2 2v14c0 1.100.89 2 2 2h14c1.100 0 2-.9 2-2v-7h-2v7zM14 3v2h3.590l-9.830 9.830 1.410 1.410L19 6.410V10h2V3h-7z"/></svg>
<div class="b" style="left:1200.00px;top:783.58px;width:74.20px;height:22.00px;background:#faf4e5;border-radius:11.5px;"></div>
<svg class="i" style="left:1204.40px;top:787.08px;width:15px;height:15px;" viewBox="0 0 24 24"><path fill="#c4972f" d="M1 21h22L12 2 1 21zm12-3h-2v-2h2v2zm0-4h-2v-4h2v4z"/></svg>
<span class="t " style="top:789.76px;font-size:10.9px;color:#c39a36;font-weight:700;letter-spacing:-0.287px;left:1224.00px;">Overdue</span>
<span class="t " style="top:788.68px;font-size:12.7px;color:#2c2556;left:1281.50px;">.</span>
<svg class="i" style="left:1439.30px;top:783.88px;width:21.8px;height:21.8px;" viewBox="0 0 24 24"><path fill="#1f1646" d="M12 4.500C7 4.500 2.730 7.610 1 12c1.730 4.390 6 7.500 11 7.500s9.270-3.110 11-7.500c-1.730-4.390-6-7.500-11-7.500zM12 17c-2.760 0-5-2.240-5-5s2.240-5 5-5 5 2.240 5 5-2.240 5-5 5zm0-8c-1.660 0-3 1.340-3 3s1.340 3 3 3 3-1.340 3-3-1.340-3-3-3z"/></svg>
<svg class="i" style="left:1464.35px;top:783.83px;width:21.9px;height:21.9px;" viewBox="0 0 24 24"><path fill="#1f1646" d="M19 3h-4.180C14.400 1.840 13.300 1 12 1c-1.300 0-2.400.84-2.820 2H5c-1.100 0-2 .9-2 2v14c0 1.100.9 2 2 2h14c1.100 0 2-.9 2-2V5c0-1.100-.9-2-2-2zm-7 0c.55 0 1 .45 1 1s-.45 1-1 1-1-.45-1-1 .45-1 1-1zm2 14H7v-2h7v2zm3-4H7v-2h10v2zm0-4H7V7h10v2z"/></svg>
</div>
<div class="tr">
<div class="b" style="left:305.00px;top:819.30px;width:1195.00px;height:1.00px;background:#ececef;"></div>
<div class="b" style="left:321.15px;top:839.95px;width:10.90px;height:10.90px;border:2px solid #939396;border-radius:2px;box-sizing:border-box;background:#fff;"></div>
<span class="t " style="top:831.50px;font-size:12.7px;color:#2c2556;font-weight:700;letter-spacing:-0.088px;left:355.30px;">sally.murazik...</span>
<svg class="i" style="left:355.55px;top:845.15px;width:16.3px;height:16.3px;" viewBox="0 0 24 24"><path fill="#7b7b80" d="M9 11.750c-.69 0-1.250.56-1.250 1.250s.56 1.250 1.250 1.250 1.250-.56 1.250-1.250-.56-1.250-1.250-1.250zm6 0c-.69 0-1.250.56-1.250 1.250s.56 1.250 1.250 1.250 1.250-.56 1.250-1.250-.56-1.250-1.250-1.250zM12 2C6.480 2 2 6.480 2 12s4.480 10 10 10 10-4.480 10-10S17.520 2 12 2zm0 18c-4.410 0-8-3.590-8-8 0-.29.02-.58.05-.86 2.360-1.050 4.230-2.980 5.210-5.370C11.070 8.330 14.050 10 17.420 10c.78 0 1.530-.09 2.250-.26.21.71.33 1.470.33 2.260 0 4.410-3.590 8-8 8z"/></svg>
<span class="t " style="top:847.80px;font-size:12.7px;color:#85858b;letter-spacing:0.090px;left:375.30px;">employee</span>
<span class="t " style="top:839.70px;font-size:12.7px;color:#2c2556;letter-spacing:-0.105px;left:495.00px;">Sally R</span>
<span class="t " style="top:839.70px;font-size:12.7px;color:#2c2556;letter-spacing:0.037px;left:635.20px;">Twingate Revie...</span>
<svg class="i" style="left:776.00px;top:832.20px;width:30px;height:26px;" viewBox="0 0 30 26"><path d="M14.7 5 9.3 9Q8.4 9.800 8.300 11L8 18.300 13 15.500 14.700 8.500z" fill="#08080c"/><path d="M17.700 7.300 12.500 10.800Q11.700 11.400 11.600 12.500L11.300 20.600 16.500 16.700Q17.600 15.800 17.600 14.500z" fill="#08080c" stroke="#fff" stroke-width="1.3" paint-order="stroke"/></svg>
<span class="t " style="top:832.00px;font-size:12.7px;color:#2c2556;letter-spacing:0.410px;left:806.30px;">Twingate</span>
<span class="t " style="top:847.40px;font-size:12.7px;color:#85858b;letter-spacing:-0.257px;left:806.40px;">VPN</span>
<span class="t " style="top:839.70px;font-size:12.7px;color:#2c2556;letter-spacing:0.081px;left:915.70px;">Sheldon Rama</span>
<div class="b" style="left:1056.00px;top:834.00px;width:109.00px;height:22.00px;background:#f5ecf3;border-radius:11.5px;"></div>
<svg class="i" style="left:1060.65px;top:837.85px;width:15.3px;height:15.3px;" viewBox="0 0 24 24"><path fill="#7f2b64" d="M13 11.330L18 18H6l5-6.670V6h2m2.960-4H8.040c-.42 0-.65.48-.39.81L9 4.500v6.170L3.200 18.400c-.49.66-.02 1.600.8 1.600h16c.82 0 1.290-.94.8-1.600L15 10.670V4.500l1.350-1.690c.26-.33.03-.81-.39-.81z"/></svg>
<span class="t " style="top:840.18px;font-size:10.9px;color:#7f2b64;font-weight:700;letter-spacing:-0.100px;left:1080.30px;">Overentitled</span>
<svg class="i" style="left:1145.85px;top:837.65px;width:15.5px;height:15.5px;" viewBox="0 0 24 24"><path fill="#ab6d9a" d="M19 19H5V5h7V3H5c-1.110 0-2 .9-2 2v14c0 1.100.89 2 2 2h14c1.100 0 2-.9 2-2v-7h-2v7zM14 3v2h3.590l-9.830 9.830 1.410 1.410L19 6.410V10h2V3h-7z"/></svg>
<div class="b" style="left:1200.00px;top:834.00px;width:74.20px;height:22.00px;background:#faf4e5;border-radius:11.5px;"></div>
<svg class="i" style="left:1204.40px;top:837.50px;width:15px;height:15px;" viewBox="0 0 24 24"><path fill="#c4972f" d="M1 21h22L12 2 1 21zm12-3h-2v-2h2v2zm0-4h-2v-4h2v4z"/></svg>
<span class="t " style="top:840.18px;font-size:10.9px;color:#c39a36;font-weight:700;letter-spacing:-0.287px;left:1224.00px;">Overdue</span>
<span class="t " style="top:839.10px;font-size:12.7px;color:#2c2556;left:1281.50px;">.</span>
<svg class="i" style="left:1439.30px;top:834.30px;width:21.8px;height:21.8px;" viewBox="0 0 24 24"><path fill="#1f1646" d="M12 4.500C7 4.500 2.730 7.610 1 12c1.730 4.390 6 7.500 11 7.500s9.270-3.110 11-7.500c-1.730-4.390-6-7.500-11-7.500zM12 17c-2.760 0-5-2.240-5-5s2.240-5 5-5 5 2.240 5 5-2.240 5-5 5zm0-8c-1.660 0-3 1.340-3 3s1.340 3 3 3 3-1.340 3-3-1.340-3-3-3z"/></svg>
<svg class="i" style="left:1464.35px;top:834.25px;width:21.9px;height:21.9px;" viewBox="0 0 24 24"><path fill="#1f1646" d="M19 3h-4.180C14.400 1.840 13.300 1 12 1c-1.300 0-2.400.84-2.820 2H5c-1.100 0-2 .9-2 2v14c0 1.100.9 2 2 2h14c1.100 0 2-.9 2-2V5c0-1.100-.9-2-2-2zm-7 0c.55 0 1 .45 1 1s-.45 1-1 1-1-.45-1-1 .45-1 1-1zm2 14H7v-2h7v2zm3-4H7v-2h10v2zm0-4H7V7h10v2z"/></svg>
</div>
<div class="tr">
<div class="b" style="left:305.00px;top:869.72px;width:1195.00px;height:1.00px;background:#ececef;"></div>
<div class="b" style="left:321.15px;top:890.37px;width:10.90px;height:10.90px;border:2px solid #939396;border-radius:2px;box-sizing:border-box;background:#fff;"></div>
<span class="t " style="top:881.92px;font-size:12.7px;color:#2c2556;font-weight:700;letter-spacing:-0.216px;left:355.30px;">nick@gmail.com</span>
<svg class="i" style="left:355.55px;top:895.57px;width:16.3px;height:16.3px;" viewBox="0 0 24 24"><path fill="#7b7b80" d="M9 11.750c-.69 0-1.250.56-1.250 1.250s.56 1.250 1.250 1.250 1.250-.56 1.250-1.250-.56-1.250-1.250-1.250zm6 0c-.69 0-1.250.56-1.250 1.250s.56 1.250 1.250 1.250 1.250-.56 1.250-1.250-.56-1.250-1.250-1.250zM12 2C6.480 2 2 6.480 2 12s4.480 10 10 10 10-4.480 10-10S17.520 2 12 2zm0 18c-4.410 0-8-3.590-8-8 0-.29.02-.58.05-.86 2.360-1.050 4.230-2.980 5.210-5.370C11.070 8.330 14.050 10 17.420 10c.78 0 1.530-.09 2.250-.26.21.71.33 1.470.33 2.260 0 4.410-3.590 8-8 8z"/></svg>
<span class="t " style="top:898.22px;font-size:12.7px;color:#85858b;letter-spacing:0.090px;left:375.30px;">employee</span>
<span class="t " style="top:890.12px;font-size:12.7px;color:#2c2556;letter-spacing:0.062px;left:495.00px;">Sheldon Rama</span>
<span class="t " style="top:890.12px;font-size:12.7px;color:#2c2556;letter-spacing:0.037px;left:635.20px;">Twingate Revie...</span>
<svg class="i" style="left:776.00px;top:882.62px;width:30px;height:26px;" viewBox="0 0 30 26"><path d="M14.7 5 9.3 9Q8.4 9.800 8.300 11L8 18.300 13 15.500 14.700 8.500z" fill="#08080c"/><path d="M17.700 7.300 12.500 10.800Q11.700 11.400 11.600 12.500L11.300 20.600 16.500 16.700Q17.600 15.800 17.600 14.500z" fill="#08080c" stroke="#fff" stroke-width="1.3" paint-order="stroke"/></svg>
<span class="t " style="top:882.42px;font-size:12.7px;color:#2c2556;letter-spacing:0.410px;left:806.30px;">Twingate</span>
<span class="t " style="top:897.82px;font-size:12.7px;color:#85858b;letter-spacing:-0.257px;left:806.40px;">VPN</span>
<span class="t " style="top:890.12px;font-size:12.7px;color:#2c2556;letter-spacing:0.264px;left:915.70px;">Valentine Bridget</span>
<div class="b" style="left:1056.00px;top:884.42px;width:77.50px;height:22.00px;background:#e8ecf8;border-radius:11.5px;"></div>
<svg class="i" style="left:1059.95px;top:887.37px;width:16.5px;height:16.5px;" viewBox="0 0 24 24"><path fill="#3a57b0" d="M12 12c2.210 0 4-1.790 4-4s-1.790-4-4-4-4 1.790-4 4 1.790 4 4 4zm0 2c-2.670 0-8 1.340-8 4v2h16v-2c0-2.660-5.330-4-8-4z"/></svg>
<span class="t " style="top:890.60px;font-size:10.9px;color:#3a57b0;font-weight:700;letter-spacing:0.213px;left:1079.80px;">Manager</span>
<div class="b" style="left:1144.50px;top:884.42px;width:22.50px;height:22.00px;background:#fbf3ea;border-radius:11.5px 0 0 11.5px;"></div>
<svg class="i" style="left:1147.55px;top:886.97px;width:17.5px;height:17.5px;" viewBox="0 0 24 24"><path fill="#b5622f" d="M7 11v2h10v-2H7zm5-9C6.480 2 2 6.480 2 12s4.480 10 10 10 10-4.480 10-10S17.520 2 12 2zm0 18c-4.410 0-8-3.590-8-8s3.590-8 8-8 8 3.590 8 8-3.590 8-8 8z"/></svg>
<div class="b" style="left:1200.00px;top:884.42px;width:74.20px;height:22.00px;background:#faf4e5;border-radius:11.5px;"></div>
<svg class="i" style="left:1204.40px;top:887.92px;width:15px;height:15px;" viewBox="0 0 24 24"><path fill="#c4972f" d="M1 21h22L12 2 1 21zm12-3h-2v-2h2v2zm0-4h-2v-4h2v4z"/></svg>
<span class="t " style="top:890.60px;font-size:10.9px;color:#c39a36;font-weight:700;letter-spacing:-0.287px;left:1224.00px;">Overdue</span>
<span class="t " style="top:889.52px;font-size:12.7px;color:#2c2556;left:1281.50px;">.</span>
<svg class="i" style="left:1439.30px;top:884.72px;width:21.8px;height:21.8px;" viewBox="0 0 24 24"><path fill="#1f1646" d="M12 4.500C7 4.500 2.730 7.610 1 12c1.730 4.390 6 7.500 11 7.500s9.270-3.110 11-7.500c-1.730-4.390-6-7.500-11-7.500zM12 17c-2.760 0-5-2.240-5-5s2.240-5 5-5 5 2.240 5 5-2.240 5-5 5zm0-8c-1.660 0-3 1.340-3 3s1.340 3 3 3 3-1.340 3-3-1.340-3-3-3z"/></svg>
<svg class="i" style="left:1464.35px;top:884.67px;width:21.9px;height:21.9px;" viewBox="0 0 24 24"><path fill="#1f1646" d="M19 3h-4.180C14.400 1.840 13.300 1 12 1c-1.300 0-2.400.84-2.820 2H5c-1.100 0-2 .9-2 2v14c0 1.100.9 2 2 2h14c1.100 0 2-.9 2-2V5c0-1.100-.9-2-2-2zm-7 0c.55 0 1 .45 1 1s-.45 1-1 1-1-.45-1-1 .45-1 1-1zm2 14H7v-2h7v2zm3-4H7v-2h10v2zm0-4H7V7h10v2z"/></svg>
</div>
<div class="tr">
<div class="b" style="left:305.00px;top:920.14px;width:1195.00px;height:1.00px;background:#ececef;"></div>
<div class="b" style="left:321.15px;top:940.79px;width:10.90px;height:10.90px;border:2px solid #939396;border-radius:2px;box-sizing:border-box;background:#fff;"></div>
<span class="t " style="top:932.34px;font-size:12.7px;color:#2c2556;font-weight:700;letter-spacing:-0.233px;left:355.30px;">vito.noemy@o...</span>
<svg class="i" style="left:355.55px;top:945.99px;width:16.3px;height:16.3px;" viewBox="0 0 24 24"><path fill="#7b7b80" d="M9 11.750c-.69 0-1.250.56-1.250 1.250s.56 1.250 1.250 1.250 1.250-.56 1.250-1.250-.56-1.250-1.250-1.250zm6 0c-.69 0-1.250.56-1.250 1.250s.56 1.250 1.250 1.250 1.250-.56 1.250-1.250-.56-1.250-1.250-1.250zM12 2C6.480 2 2 6.480 2 12s4.480 10 10 10 10-4.480 10-10S17.520 2 12 2zm0 18c-4.410 0-8-3.590-8-8 0-.29.02-.58.05-.86 2.360-1.050 4.230-2.980 5.210-5.370C11.070 8.330 14.050 10 17.420 10c.78 0 1.530-.09 2.250-.26.21.71.33 1.470.33 2.260 0 4.410-3.590 8-8 8z"/></svg>
<span class="t " style="top:948.64px;font-size:12.7px;color:#85858b;letter-spacing:0.090px;left:375.30px;">employee</span>
<span class="t " style="top:940.54px;font-size:12.7px;color:#2c2556;letter-spacing:0.210px;left:495.00px;">Vito Noemy</span>
<span class="t " style="top:940.54px;font-size:12.7px;color:#2c2556;letter-spacing:0.037px;left:635.20px;">Twingate Revie...</span>
<svg class="i" style="left:776.00px;top:933.04px;width:30px;height:26px;" viewBox="0 0 30 26"><path d="M14.7 5 9.3 9Q8.4 9.800 8.300 11L8 18.300 13 15.500 14.700 8.500z" fill="#08080c"/><path d="M17.700 7.300 12.500 10.800Q11.700 11.400 11.600 12.500L11.300 20.600 16.500 16.700Q17.600 15.800 17.600 14.500z" fill="#08080c" stroke="#fff" stroke-width="1.3" paint-order="stroke"/></svg>
<span class="t " style="top:932.84px;font-size:12.7px;color:#2c2556;letter-spacing:0.410px;left:806.30px;">Twingate</span>
<span class="t " style="top:948.24px;font-size:12.7px;color:#85858b;letter-spacing:-0.257px;left:806.40px;">VPN</span>
<span class="t " style="top:940.54px;font-size:12.7px;color:#2c2556;letter-spacing:0.081px;left:915.70px;">Sheldon Rama</span>
<div class="b" style="left:1056.00px;top:934.84px;width:109.00px;height:22.00px;background:#f5ecf3;border-radius:11.5px;"></div>
<svg class="i" style="left:1060.65px;top:938.69px;width:15.3px;height:15.3px;" viewBox="0 0 24 24"><path fill="#7f2b64" d="M13 11.330L18 18H6l5-6.670V6h2m2.960-4H8.040c-.42 0-.65.48-.39.81L9 4.500v6.170L3.200 18.400c-.49.66-.02 1.600.8 1.600h16c.82 0 1.290-.94.8-1.600L15 10.670V4.500l1.350-1.690c.26-.33.03-.81-.39-.81z"/></svg>
<span class="t " style="top:941.02px;font-size:10.9px;color:#7f2b64;font-weight:700;letter-spacing:-0.100px;left:1080.30px;">Overentitled</span>
<svg class="i" style="left:1145.85px;top:938.49px;width:15.5px;height:15.5px;" viewBox="0 0 24 24"><path fill="#ab6d9a" d="M19 19H5V5h7V3H5c-1.110 0-2 .9-2 2v14c0 1.100.89 2 2 2h14c1.100 0 2-.9 2-2v-7h-2v7zM14 3v2h3.590l-9.830 9.830 1.410 1.410L19 6.410V10h2V3h-7z"/></svg>
<div class="b" style="left:1200.00px;top:934.84px;width:74.20px;height:22.00px;background:#faf4e5;border-radius:11.5px;"></div>
<svg class="i" style="left:1204.40px;top:938.34px;width:15px;height:15px;" viewBox="0 0 24 24"><path fill="#c4972f" d="M1 21h22L12 2 1 21zm12-3h-2v-2h2v2zm0-4h-2v-4h2v4z"/></svg>
<span class="t " style="top:941.02px;font-size:10.9px;color:#c39a36;font-weight:700;letter-spacing:-0.287px;left:1224.00px;">Overdue</span>
<span class="t " style="top:939.94px;font-size:12.7px;color:#2c2556;left:1281.50px;">.</span>
<svg class="i" style="left:1439.30px;top:935.14px;width:21.8px;height:21.8px;" viewBox="0 0 24 24"><path fill="#1f1646" d="M12 4.500C7 4.500 2.730 7.610 1 12c1.730 4.390 6 7.500 11 7.500s9.270-3.110 11-7.500c-1.730-4.390-6-7.500-11-7.500zM12 17c-2.760 0-5-2.240-5-5s2.240-5 5-5 5 2.240 5 5-2.240 5-5 5zm0-8c-1.660 0-3 1.340-3 3s1.340 3 3 3 3-1.340 3-3-1.340-3-3-3z"/></svg>
<svg class="i" style="left:1464.35px;top:935.09px;width:21.9px;height:21.9px;" viewBox="0 0 24 24"><path fill="#1f1646" d="M19 3h-4.180C14.400 1.840 13.300 1 12 1c-1.300 0-2.400.84-2.820 2H5c-1.100 0-2 .9-2 2v14c0 1.100.9 2 2 2h14c1.100 0 2-.9 2-2V5c0-1.100-.9-2-2-2zm-7 0c.55 0 1 .45 1 1s-.45 1-1 1-1-.45-1-1 .45-1 1-1zm2 14H7v-2h7v2zm3-4H7v-2h10v2zm0-4H7V7h10v2z"/></svg>
</div>
</section>
</main>
<div class="sbt"></div><div class="sbh"></div>
</div></div>
</body></html>
